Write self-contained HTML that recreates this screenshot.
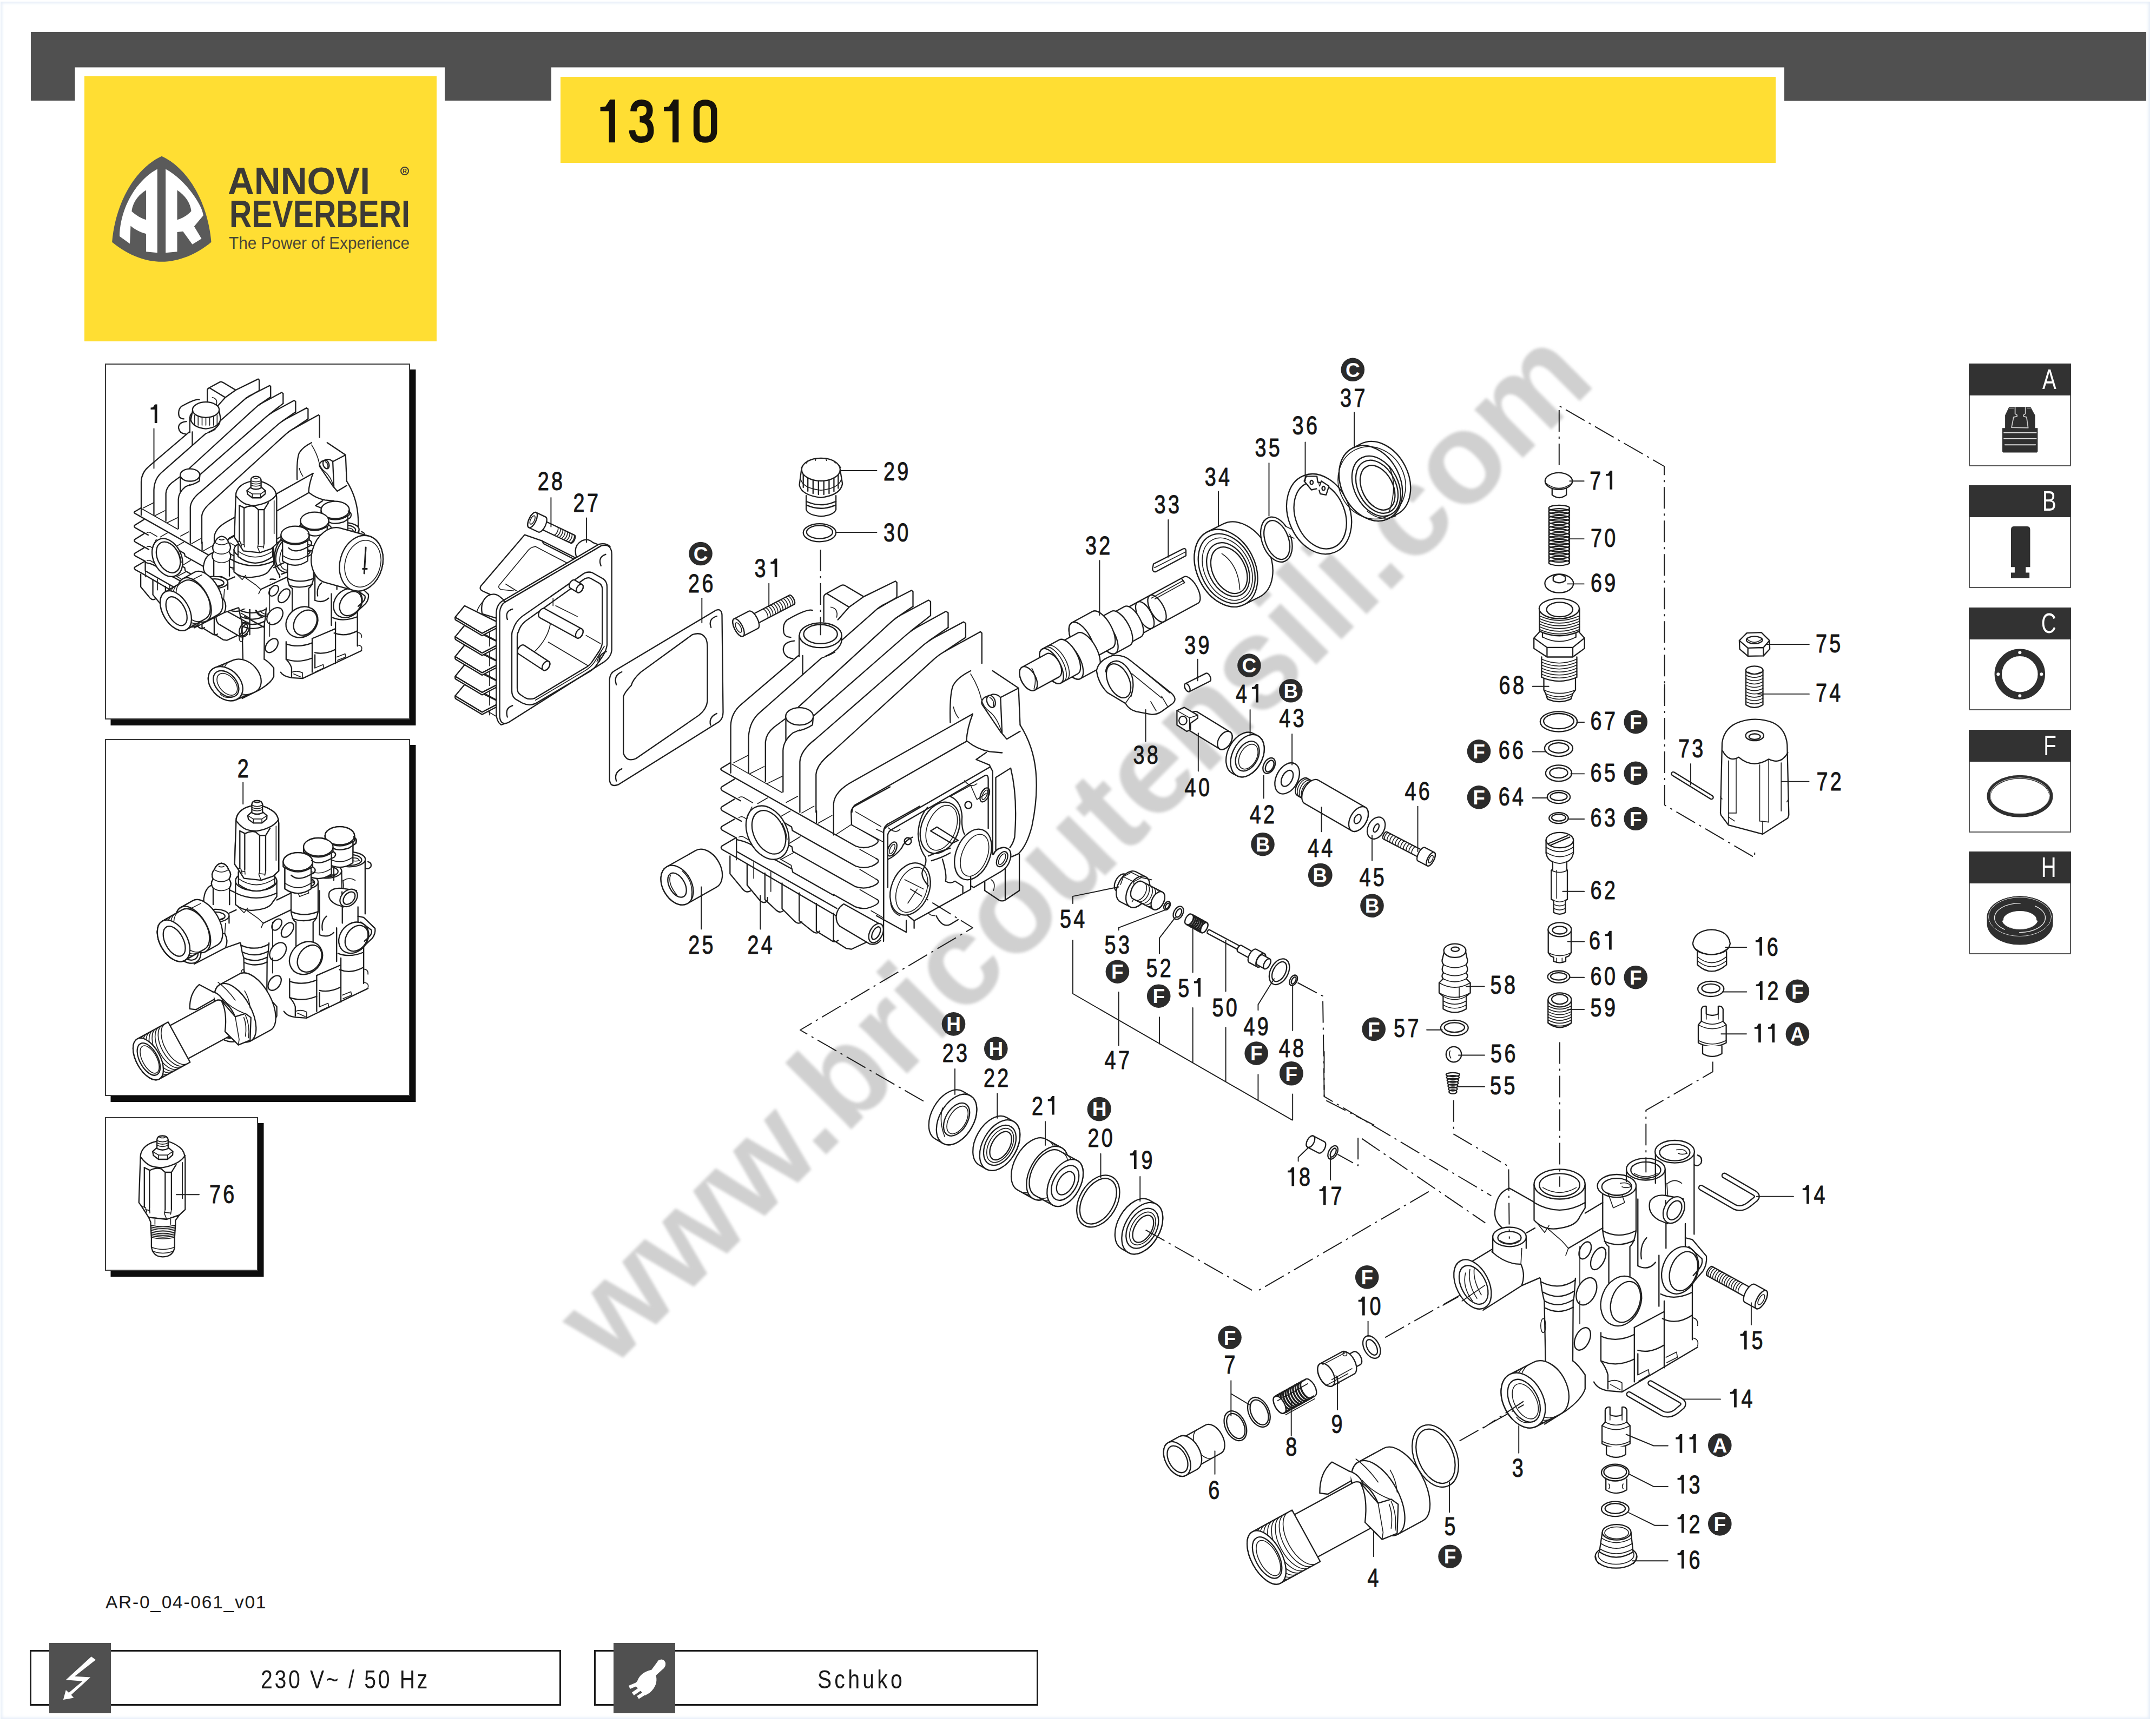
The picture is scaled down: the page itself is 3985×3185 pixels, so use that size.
<!DOCTYPE html>
<html><head><meta charset="utf-8"><title>1310</title>
<style>
html,body{margin:0;padding:0;background:#fff;}
body{width:3985px;height:3185px;position:relative;overflow:hidden;font-family:"Liberation Sans",sans-serif;}
.abs{position:absolute;}
#frame{left:1px;top:3px;width:3973px;height:3175px;box-shadow:inset 0 0 5px 3px #e6eef8;}
.yel{background:#ffde33;}
.tbox{border:2px solid #3a3a3a;background:#fff;box-shadow:10.5px 11px 0 0 #0d0d0d;box-sizing:border-box;}
.lg{border:2px solid #585858;box-sizing:border-box;background:#fff;left:3639px;width:189px;height:190px;}
.lg .h{position:absolute;left:-2px;top:-2px;width:189px;height:59px;background:#323232;}
.lg .h span{position:absolute;right:27px;top:3px;color:#fff;font-size:52px;line-height:52px;transform:scaleX(.74);transform-origin:100% 50%;}
.fbox{border:3.5px solid #1c1c1c;box-sizing:border-box;top:3050px;height:103px;}
.fic{background:#505050;top:3037px;height:130px;width:114px;}
.ftx{top:3074px;height:60px;font-size:49px;line-height:60px;color:#1a1a1a;white-space:nowrap;transform-origin:50% 50%;text-align:center;}
svg text{font-family:"Liberation Sans",sans-serif;}
#main .n{stroke:#161616;stroke-width:1;fill:#161616;font-size:49px;text-anchor:middle;letter-spacing:7px;}
#main .n1{stroke:#161616;stroke-width:1;fill:#161616;font-size:49px;text-anchor:middle;}
#main .k1{stroke:none;fill:#161616;}
#main .bg{stroke:none;fill:#2b2b2b;}
#main .bt{stroke:none;fill:#fff;font-size:37px;font-weight:bold;text-anchor:middle;}
#main .ld{stroke-width:1.9;}
#main .dd{stroke-width:2;stroke-dasharray:40 9 4 9;stroke-linecap:butt;}
#main .w{fill:#fff;}
#main .k{fill:#1e1e1e;}
#main .t{stroke-width:1.6;}
#main .sp{stroke-width:3.4;}

#main path,#main ellipse,#main line,#main circle,#main polyline,#main rect,#main polygon{vector-effect:non-scaling-stroke;}
</style></head><body>
<div id="frame" class="abs"></div>
<svg class="abs" style="left:0;top:0" width="3985" height="3185" viewBox="0 0 3985 3185">
<path d="M57,59H3967V186.5H3298V124.5H1019V186H822V124.5H138.5V186H57Z" fill="#505050"/>
</svg>
<div class="abs yel" style="left:155.5px;top:141px;width:651px;height:490px;"></div>
<div class="abs yel" style="left:1035.5px;top:141.5px;width:2246px;height:159px;"></div>
<!-- logo -->
<svg class="abs" style="left:0;top:0" width="900" height="700" viewBox="0 0 900 700">
<g transform="translate(190,270) scale(0.13349)">
<path d="M815,140 C1150,290 1450,740 1502,1330 C1300,1500 1050,1602 815,1602 C580,1602 330,1500 128,1330 C180,740 480,290 815,140Z" fill="#5a5a5a"/>
<path d="M755,318 C470,470 240,850 232,1250 L375,1352 L385,1105 C450,1160 530,1200 600,1215 L600,1462 L755,1477Z M600,610 C480,680 410,800 400,905 C460,960 530,1000 600,1020Z" fill="#fff" fill-rule="evenodd"/>
<path d="M870,318 C1150,470 1380,820 1392,960 L1265,1112 L1367,1282 L1240,1362 L1110,1182 L1030,1192 L1030,1462 L870,1477Z M1030,610 C1140,680 1215,790 1225,900 C1170,960 1100,1000 1030,1020Z" fill="#fff" fill-rule="evenodd"/>
</g>
<text id="l1" x="421" y="358.5" font-size="70" font-weight="bold" fill="#3c3a36" textLength="263" lengthAdjust="spacingAndGlyphs">ANNOVI</text>
<text id="l2" x="424" y="420" font-size="70" font-weight="bold" fill="#3c3a36" textLength="334" lengthAdjust="spacingAndGlyphs">REVERBERI</text>
<text id="l3" x="423" y="459.5" font-size="31.5" fill="#4a4636" textLength="334" lengthAdjust="spacingAndGlyphs">The Power of Experience</text>
<g fill="none" stroke="#3c3a36" stroke-width="2"><circle cx="748" cy="316" r="7"/></g>
<text x="744.3" y="320" font-size="10.5" font-weight="bold" fill="#3c3a36">R</text>
</svg>
<!-- thumbnails -->
<div class="abs tbox" style="left:193.5px;top:671.5px;width:564px;height:658px;"></div>
<div class="abs tbox" style="left:193.5px;top:1366px;width:564px;height:660px;"></div>
<div class="abs tbox" style="left:193.5px;top:2065px;width:283px;height:284px;"></div>
<!-- legend -->
<div class="abs lg" style="top:671.5px;"><div class="h"><span>A</span></div></div>
<div class="abs lg" style="top:897px;"><div class="h"><span>B</span></div></div>
<div class="abs lg" style="top:1122.5px;"><div class="h"><span>C</span></div></div>
<div class="abs lg" style="top:1348.5px;"><div class="h"><span>F</span></div></div>
<div class="abs lg" style="top:1574px;"><div class="h"><span>H</span></div></div>
<!-- footer -->
<div class="abs" id="ref" style="left:195px;top:2943px;font-size:33.5px;line-height:38px;color:#1a1a1a;letter-spacing:1.75px;white-space:nowrap;">AR-0_04-061_v01</div>
<div class="abs fbox" style="left:55px;width:982px;"></div>
<div class="abs fbox" style="left:1098px;width:821px;"></div>
<div class="abs fic" style="left:91px;"></div>
<div class="abs fic" style="left:1133.5px;"></div>
<div class="abs ftx" id="f1" style="left:438px;width:400px;letter-spacing:4.6px;transform:scaleX(.8);">230 V~ / 50 Hz</div>
<div class="abs ftx" id="f2" style="left:1392px;width:400px;letter-spacing:6.5px;transform:scaleX(.8);">Schuko</div>
<!-- watermark -->
<div class="abs" id="wm" style="left:0;top:0;width:3985px;height:3185px;pointer-events:none;">
<svg class="abs" style="left:0;top:0;filter:blur(2.6px)" width="3985" height="3185" viewBox="0 0 3985 3185">
<text id="wmt" transform="translate(1129,2532) rotate(-45)" x="0" y="0" font-size="239" font-weight="bold" fill="#d0d0d0" textLength="2580" lengthAdjust="spacing">www.bricoutensili.com</text>
</svg></div>
<!-- main drawing -->
<svg id="main" class="abs" style="left:0;top:0" width="3985" height="3185" viewBox="0 0 3985 3185" fill="none" stroke="#1e1e1e" stroke-width="2.3" stroke-linecap="round" stroke-linejoin="round">
<!-- g03b.svg -->
<g id="g03b">
<path d="M2777,2270.1 Q2759.1,2255.5 2764,2232.8 Q2767.9,2203.5 2790,2196.4 L2837.1,2223" class="w"/>
<path d="M2920,2288 L2962.3,2262 L2962.3,2187.3 L3014.3,2161.3 L3059.8,2138.5 L3059.8,2128.8 Q3095.5,2099.5 3134.5,2128.8 L3141,2145 L3131.3,2158 L3131.3,2281.5 L3154,2320.5 L3147.5,2349.8 L3128,2372.5 L3128,2431 L3139.4,2437.5 L3137.8,2489.5 L2998,2572.4 L2972,2570.8 Q2952.5,2567.5 2946,2554.5 L2929.8,2541.5 L2907,2515.5 L2907,2405 L2920,2372.5 Z" class="w" stroke="none"/>
<path d="M2695.8,2346.5 L2757.5,2309.1 L2759.1,2288 L2820.9,2288 L2821.5,2278.9 L2837.1,2270.1 L2837.1,2223 L2929.8,2223 L2929.8,2232.8 L2920,2249 L2920,2288 L2962.3,2262 L2962.3,2275 L2920,2304.3 L2920,2372.5 L2845.3,2362.8 L2812.8,2375.8 L2741.3,2421.3 Z" class="w" stroke="none"/>
<path d="M2695.1,2347.2 L2757.5,2309.5"/>
<path d="M2741.3,2421.9 L2812.8,2376.4 L2845.9,2362.1"/>
<path d="M2821.5,2278.9 L2837.1,2270.1"/>
<path d="M2929.8,2242.5 L2962.3,2223"/>
<path d="M2898.9,2307.5 L2962.3,2270.1"/>
<path d="M2757.5,2314 Q2783.5,2337.4 2811.1,2336.8 Q2819.9,2356.3 2812.8,2375.8"/>
<path d="M2811.1,2336.8 L2812.8,2307.5" class="t"/>
<path d="M2759.1,2288 L2759.1,2314.7 M2820.9,2288 L2820.9,2307.5"/>
<ellipse cx="2790" cy="2286.4" rx="30.9" ry="17.9" class="w"/>
<ellipse cx="2790" cy="2288" rx="21.5" ry="11.7"/>
<path d="M2772.1,2292.9 Q2790,2304.3 2807.9,2292.9" class="t"/>
<ellipse cx="2721.8" cy="2374.1" rx="29.9" ry="48.8" transform="rotate(-27 2721.8 2374.1)" class="w"/>
<ellipse cx="2723.7" cy="2375.1" rx="22.8" ry="38.4" transform="rotate(-27 2723.7 2375.1)"/>
<path d="M2708.8,2353 Q2702.3,2379 2721.8,2405 M2716.9,2346.5 Q2712,2372.5 2729.9,2400.1 M2725,2343.3 Q2721.8,2366 2738,2393.6" class="t"/>
<path d="M2702.3,2405 L2744.5,2375.8" class="t"/>
<path d="M2835.5,2188.9 L2835.5,2255.5 Q2855,2276.6 2884.3,2270.1 Q2913.5,2265.9 2920,2249 L2929.8,2232.8 L2929.8,2188.9" class="w"/>
<path d="M2835.5,2223 Q2882.6,2250.6 2929.8,2223"/>
<path d="M2842,2262 L2855,2278.3 L2863.1,2265.3" class="t"/>
<path d="M2861.5,2271.8 L2887.5,2294.5 L2898.9,2307.5 L2894,2320.5" class="t"/>
<ellipse cx="2882.6" cy="2188.9" rx="47.1" ry="27.6" class="w"/>
<ellipse cx="2882.6" cy="2190.5" rx="37.4" ry="21.1"/>
<path d="M2851.8,2195.4 Q2882.6,2213.3 2913.5,2195.4 M2855,2205.1 Q2882.6,2219.8 2910.3,2205.1" class="t"/>
<path d="M2846.9,2362.8 L2847.9,2369.3 Q2850.1,2388.8 2854.4,2405 L2856.6,2515.5 Q2851.8,2530.1 2835.5,2535"/>
<path d="M2911.9,2362.8 L2910.3,2385.5 Q2909.6,2398.5 2907.7,2405 L2907,2515.5"/>
<path d="M2847.9,2369.3 Q2881,2387.1 2911.9,2366 M2852.4,2388.8 Q2881,2405 2910.3,2386.2 M2855,2405 Q2881,2419.6 2908.3,2402.4 M2856.6,2418 Q2881,2431 2907.7,2416.4"/>
<ellipse cx="2852.4" cy="2450.5" rx="4.6" ry="13" class="t"/>
<path d="M2907,2515.5 Q2916.8,2522 2929.8,2541.5 L2929.8,2567.5 Q2923.3,2587 2894,2608.1 L2855,2632.5" class="w"/>
<path d="M2835.5,2535 L2803,2544.8"/>
<g transform="translate(2815.4,2588.6) rotate(-27.2)"><path class="w" d="M0,-54 L49,-54 A36.7,54 0 0 1 49,54 L0,54 A36.7,54 0 0 1 0,-54 Z"/><path class="t" d="M11.4,-54 A36.7,54 0 0 0 11.4,54"/><path class="t" d="M21.1,-54 A36.7,54 0 0 0 21.1,54"/><path class="t" d="M30.9,-54 A36.7,54 0 0 0 30.9,54"/><path class="t" d="M40.6,-54 A36.7,54 0 0 0 40.6,54"/><ellipse class="w" cx="0" cy="0" rx="36.7" ry="54"/></g>
<ellipse cx="2816.7" cy="2589.3" rx="26" ry="42.3" transform="rotate(-27.4 2816.7 2589.3)"/>
<ellipse cx="2819.3" cy="2590.3" rx="20.2" ry="35.1" transform="rotate(-27.4 2819.3 2590.3)" class="t"/>
<path d="M2803,2619.5 Q2812.8,2632.5 2829,2629.3" class="t"/>
<ellipse cx="2929.8" cy="2311.4" rx="9.8" ry="16.9" transform="rotate(25 2929.8 2311.4)"/>
<ellipse cx="2954.1" cy="2326.4" rx="11.7" ry="22.1" transform="rotate(25 2954.1 2326.4)"/>
<ellipse cx="2932.4" cy="2387.1" rx="16.9" ry="26.7" transform="rotate(25 2932.4 2387.1)"/>
<ellipse cx="2924.9" cy="2474.9" rx="13" ry="22.1" transform="rotate(25 2924.9 2474.9)"/>
<path d="M2920,2304.3 L2920,2372.5 M2920,2405 L2920,2447.3" class="t"/>
<path d="M2962.3,2192.1 L2962.3,2275 Q2965.5,2301 2973.6,2304.3 L2973.6,2372.5 M3024,2192.1 L3024,2275 Q3020.8,2297.8 3012.6,2304.3 L3012.6,2372.5"/>
<path d="M2962.3,2275 Q2991.5,2291.3 3024,2275 M2965.5,2294.5 Q2991.5,2307.5 3020.8,2292.9"/>
<ellipse cx="2988.3" cy="2192.1" rx="35.8" ry="21.1" class="w"/>
<ellipse cx="2988.3" cy="2193.8" rx="27.6" ry="15.6"/>
<path d="M2972,2205.1 Q2985,2213.3 2998,2208.4 L3002.9,2223 L2981.8,2232.8 Z" class="t"/>
<path d="M2994.8,2187.3 Q3011,2184 3014.3,2193.8 Q3004.5,2197 2998,2193.8" class="t"/>
<ellipse cx="2996.4" cy="2405" rx="36.4" ry="47.1" transform="rotate(20 2996.4 2405)" class="w"/>
<ellipse cx="3004.5" cy="2406.6" rx="26" ry="39" transform="rotate(20 3004.5 2406.6)"/>
<path d="M2959,2463.5 L2959,2515.5 Q2968.8,2528.5 2972,2541.5 L2972,2567.5 M3020.8,2453.8 L3020.8,2554.5"/>
<path d="M2959,2470 Q2988.3,2483 3020.8,2466.8 M2959,2515.5 Q2988.3,2528.5 3020.8,2512.3"/>
<path d="M3006.1,2161.3 L3006.1,2184 M3077.6,2161.3 L3079.3,2262 M3027.3,2216.5 L3027.3,2340 M3066.3,2320.5 L3066.3,2414.8"/>
<ellipse cx="3041.9" cy="2161.3" rx="35.8" ry="20.2" class="w"/>
<ellipse cx="3041.9" cy="2162.9" rx="27.6" ry="15"/>
<path d="M3020.8,2169.4 Q3041.9,2180.8 3063,2169.4" class="t"/>
<path d="M3033.8,2327 Q3030.5,2301 3043.5,2288 M3027.3,2340 Q3046.8,2349.8 3059.8,2333.5"/>
<path d="M3020.8,2453.8 L3027.3,2450.5 L3076,2424.5 M3076,2405 L3076,2528.5 M3027.3,2496 Q3050,2502.5 3076,2486.3 M3027.3,2541.5 L3027.3,2502.5"/>
<path d="M3059.8,2128.8 L3059.8,2187.3 M3131.3,2128.8 L3131.3,2281.5"/>
<ellipse cx="3095.5" cy="2128.8" rx="36.4" ry="20.8" class="w"/>
<ellipse cx="3095.5" cy="2130.4" rx="28" ry="15.3"/>
<path d="M3098.8,2125.5 Q3115,2122.3 3118.3,2132 Q3108.5,2135.3 3102,2132" class="t"/>
<path d="M3137.8,2135.3 Q3147.5,2138.5 3144.3,2149.9 Q3137.8,2158 3131.9,2153.1"/>
<path d="M3050,2219.8 Q3059.8,2206.8 3079.3,2210 L3111.8,2216.5 M3050,2219.8 Q3043.5,2242.5 3066.3,2255.5 L3082.5,2262" class="w"/>
<ellipse cx="3093.9" cy="2236.7" rx="17.9" ry="26" transform="rotate(28 3093.9 2236.7)" class="w"/>
<ellipse cx="3094.9" cy="2237.3" rx="11.7" ry="18.9" transform="rotate(28 3094.9 2237.3)"/>
<path d="M3082.5,2187.3 Q3095.5,2177.5 3108.5,2187.3 M3080.9,2187.3 L3082.5,2210" class="t"/>
<ellipse cx="3105.3" cy="2348.1" rx="32.5" ry="44.9" transform="rotate(20 3105.3 2348.1)" class="w"/>
<ellipse cx="3111.8" cy="2349.8" rx="24.4" ry="37.4" transform="rotate(20 3111.8 2349.8)"/>
<path d="M3079.3,2262 L3079.3,2307.5 M3115,2262 L3115,2304.3"/>
<path d="M3069.5,2392 Q3095.5,2405 3128,2388.8 M3128,2372.5 L3128,2476.5 M3072.8,2437.5 Q3098.8,2450.5 3128,2431"/>
<path d="M3128,2435.9 Q3139.4,2437.5 3137.8,2450.5 M3128,2473.3 Q3141,2474.9 3137.8,2487.9" class="t"/>
<path d="M3115,2288 L3128,2291.3 L3154,2322.1 Q3155.6,2336.8 3147.5,2349.8 L3128,2372.5 M3121.5,2304.3 L3145.9,2327 Q3147.5,2336.8 3141,2344.9 L3129.6,2357.9"/>
<path d="M2946,2554.5 Q2952.5,2567.5 2972,2570.8 L2998,2573 L3137.8,2490.2"/>
<path d="M2972,2554.5 Q2985,2548 2998,2556.1 L2998,2573 M2976.9,2559.4 L2994.8,2569.1" class="t"/>
<path d="M3027.3,2541.5 L3046.8,2531.8 L3048.4,2541.5 L3028.9,2552.9 M3079.3,2509 L3098.8,2499.3 L3100.4,2509 L3080.9,2518.8" class="t"/>
</g>

<!-- g03x.svg -->
<g id="g03x">
<path d="M3144.3,2195.4 L3206,2231.1 Q3219,2236.7 3232,2226.9 L3245,2216.5 Q3250.9,2210 3241.8,2204.8 L3187.2,2173" stroke-width="11"/>
<path d="M3144.3,2195.4 L3206,2231.1 Q3219,2236.7 3232,2226.9 L3245,2216.5 Q3250.9,2210 3241.8,2204.8 L3187.2,2173" stroke="#fff" stroke-width="6.4"/>
<path d="M3011,2577.3 L3072.8,2613 Q3085.8,2618.5 3098.8,2608.8 L3109.2,2600 Q3114.4,2593.5 3105.9,2588.6 L3050.7,2556.8" stroke-width="11"/>
<path d="M3011,2577.3 L3072.8,2613 Q3085.8,2618.5 3098.8,2608.8 L3109.2,2600 Q3114.4,2593.5 3105.9,2588.6 L3050.7,2556.8" stroke="#fff" stroke-width="6.4"/>
<g transform="translate(3255.4,2402.4) rotate(208.9)"><path class="w" d="M24.4,-9.8 L108.9,-9.8 A4.1,9.8 0 0 1 108.9,9.8 L24.4,9.8 Z"/><path class="t" d="M42.3,-9.8 A4.1,9.8 0 0 1 42.3,9.8"/><path class="t" d="M47.1,-9.8 A4.1,9.8 0 0 1 47.1,9.8"/><path class="t" d="M52,-9.8 A4.1,9.8 0 0 1 52,9.8"/><path class="t" d="M56.9,-9.8 A4.1,9.8 0 0 1 56.9,9.8"/><path class="t" d="M61.8,-9.8 A4.1,9.8 0 0 1 61.8,9.8"/><path class="t" d="M66.6,-9.8 A4.1,9.8 0 0 1 66.6,9.8"/><path class="t" d="M71.5,-9.8 A4.1,9.8 0 0 1 71.5,9.8"/><path class="t" d="M76.4,-9.8 A4.1,9.8 0 0 1 76.4,9.8"/><path class="t" d="M81.3,-9.8 A4.1,9.8 0 0 1 81.3,9.8"/><path class="t" d="M86.1,-9.8 A4.1,9.8 0 0 1 86.1,9.8"/><path class="t" d="M91,-9.8 A4.1,9.8 0 0 1 91,9.8"/><path class="t" d="M95.9,-9.8 A4.1,9.8 0 0 1 95.9,9.8"/><path class="t" d="M100.8,-9.8 A4.1,9.8 0 0 1 100.8,9.8"/><path class="t" d="M105.6,-9.8 A4.1,9.8 0 0 1 105.6,9.8"/><path class="w" d="M0,-18.9 L24.4,-18.9 A7.9,18.9 0 0 1 24.4,18.9 L0,18.9 A7.9,18.9 0 0 1 0,-18.9 Z"/><ellipse class="w" cx="0" cy="0" rx="7.9" ry="18.9"/><ellipse class="t" cx="0" cy="0" rx="4.4" ry="10.4"/></g>
<path class="k1" d="M3228.6,2459.8V2494.4H3223.9V2469.2H3216.6V2465.8L3220.8,2465.4L3224.4,2459.8Z"/><text class="n1" transform="translate(3247.9,2494.4) scale(.77,1)">5</text>
<path d="M3236.9,2408.3L3236.9,2448.9" class="ld"/>
<path class="k1" d="M3209.8,2567V2601.6H3205.1V2576.4H3197.8V2573L3202,2572.6L3205.6,2567Z"/><text class="n1" transform="translate(3229.1,2601.6) scale(.77,1)">4</text>
<path d="M3110.1,2586.4L3180,2586.4" class="ld"/>
<path d="M3246.7,2211.6L3314.9,2211.6" class="ld"/>
<path d="M2816,2590.3 L2741.3,2640" class="dd"/>
<path d="M2695.8,2396.9 L2666.5,2413.1" class="dd"/>
</g>

<!-- g04.svg -->
<g id="g04">
<g transform="translate(2196.1,2685.9) rotate(-28.9)"><path class="w" d="M0,-29.7 L53,-29.7 A17.8,29.7 0 0 1 53,29.7 L0,29.7 A17.8,29.7 0 0 1 0,-29.7 Z"/><path class="t" d="M35.3,-29.7 A17.8,29.7 0 0 0 35.3,29.7"/><ellipse class="w" cx="0" cy="0" rx="17.8" ry="29.7"/></g>
<g transform="translate(2175.7,2697) rotate(-28.6)"><path class="w" d="M0,-34.5 L23.3,-34.5 A21.4,34.5 0 0 1 23.3,34.5 L0,34.5 A21.4,34.5 0 0 1 0,-34.5 Z"/><ellipse class="w" cx="0" cy="0" rx="21.4" ry="34.5"/></g>
<ellipse cx="2176.5" cy="2697.4" rx="16.3" ry="26.7" transform="rotate(-28 2176.5 2697.4)"/>
<text class="n1" transform="translate(2243.7,2771.3) scale(.77,1)">6</text>
<path d="M2245.5,2682.2L2245.5,2724.9" class="ld"/>
<ellipse cx="2283.4" cy="2635.7" rx="18.6" ry="29" transform="rotate(-25 2283.4 2635.7)" class="w"/>
<ellipse cx="2284.2" cy="2636.1" rx="14.9" ry="24.5" transform="rotate(-25 2284.2 2636.1)"/>
<ellipse cx="2326.9" cy="2610.5" rx="18.6" ry="29" transform="rotate(-25 2326.9 2610.5)" class="w"/>
<ellipse cx="2327.6" cy="2610.8" rx="14.9" ry="24.5" transform="rotate(-25 2327.6 2610.8)"/>
<text class="n1" transform="translate(2273,2539.2) scale(.77,1)">7</text>
<path d="M2275.3,2552.2 L2275.3,2617.2 M2275.3,2576.3 L2309.4,2596.7" class="ld"/>
<circle class="bg" cx="2273" cy="2472.3" r="21.8"/><text class="bt" x="2273" y="2485.5">F</text>
<g transform="translate(2365.2,2596.7) rotate(-29.2)"><path class="w" d="M0,-17.8 L64.7,-17.8 A8.9,17.8 0 0 1 64.7,17.8 L0,17.8 A8.9,17.8 0 0 1 0,-17.8 Z"/><path class="sp" d="M5.2,-17.8 A8.9,17.8 0 0 0 5.2,17.8"/><path class="sp" d="M10.4,-17.8 A8.9,17.8 0 0 0 10.4,17.8"/><path class="sp" d="M15.6,-17.8 A8.9,17.8 0 0 0 15.6,17.8"/><path class="sp" d="M20.8,-17.8 A8.9,17.8 0 0 0 20.8,17.8"/><path class="sp" d="M26,-17.8 A8.9,17.8 0 0 0 26,17.8"/><path class="sp" d="M31.2,-17.8 A8.9,17.8 0 0 0 31.2,17.8"/><path class="sp" d="M36.4,-17.8 A8.9,17.8 0 0 0 36.4,17.8"/><path class="sp" d="M41.6,-17.8 A8.9,17.8 0 0 0 41.6,17.8"/><path class="sp" d="M46.8,-17.8 A8.9,17.8 0 0 0 46.8,17.8"/><path class="sp" d="M52,-17.8 A8.9,17.8 0 0 0 52,17.8"/><path class="sp" d="M57.2,-17.8 A8.9,17.8 0 0 0 57.2,17.8"/><ellipse class="w" cx="0" cy="0" rx="8.9" ry="17.8"/></g>
<path d="M2357.7,2581.9 L2413.4,2550.3 M2361.4,2589.3 L2417.2,2557.7 M2372.6,2611.6 L2428.3,2580 M2376.3,2615.3 L2430.2,2585.6" class="t"/>
<text class="n1" transform="translate(2386.7,2691.4) scale(.77,1)">8</text>
<path d="M2386.7,2593L2386.7,2654.3" class="ld"/>
<g transform="translate(2491.4,2519.5) rotate(-28.1)"><path class="w" d="M0,-13.4 L18.9,-13.4 A7.4,13.4 0 0 1 18.9,13.4 L0,13.4 A7.4,13.4 0 0 1 0,-13.4 Z"/><ellipse class="w" cx="0" cy="0" rx="7.4" ry="13.4"/></g>
<g transform="translate(2451.3,2541.4) rotate(-28.6)"><path class="w" d="M0,-23.4 L45.7,-23.4 A12.9,23.4 0 0 1 45.7,23.4 L0,23.4 A12.9,23.4 0 0 1 0,-23.4 Z"/><ellipse class="w" cx="0" cy="0" rx="12.9" ry="23.4"/></g>
<path d="M2445,2522.4 L2485.9,2500.9 M2450.6,2561.4 L2491.4,2539.2 M2461.7,2550.3 L2498.9,2529.9 M2469.2,2542.9 L2474.7,2557.7" class="t"/>
<ellipse cx="2485.9" cy="2502.8" rx="3.7" ry="3.7" class="t"/>
<text class="n1" transform="translate(2471,2648.7) scale(.77,1)">9</text>
<path d="M2472.1,2546.6L2472.1,2606" class="ld"/>
<ellipse cx="2535.3" cy="2490.1" rx="14.1" ry="22.3" transform="rotate(-28 2535.3 2490.1)" class="w"/>
<ellipse cx="2535.6" cy="2490.5" rx="8.5" ry="15.6" transform="rotate(-28 2535.6 2490.5)"/>
<path class="k1" d="M2522.7,2396.8V2431.4H2518V2406.2H2510.7V2402.8L2514.9,2402.4L2518.5,2396.8Z"/><text class="n1" transform="translate(2542,2431.4) scale(.77,1)">0</text>
<path d="M2528.6,2442.6L2528.6,2470.4" class="ld"/>
<circle class="bg" cx="2526.7" cy="2360.9" r="21.8"/><text class="bt" x="2526.7" y="2374.1">F</text>
<ellipse cx="2653" cy="2691.4" rx="39" ry="60.2" transform="rotate(-23 2653 2691.4)" class="w"/>
<ellipse cx="2653.4" cy="2691.8" rx="32.3" ry="52.7" transform="rotate(-23 2653.4 2691.8)"/>
<text class="n1" transform="translate(2680.1,2838.2) scale(.77,1)">5</text>
<path d="M2679,2739.7L2679,2795.4" class="ld"/>
<circle class="bg" cx="2680.1" cy="2877.2" r="21.8"/><text class="bt" x="2680.1" y="2890.4">F</text>
<text class="n1" transform="translate(2537.9,2932.9) scale(.77,1)">4</text>
<path d="M2539,2823.3L2539,2877.2" class="ld"/>
<text class="n1" transform="translate(2805.3,2730.4) scale(.77,1)">3</text>
<path d="M2807.2,2635.7L2807.2,2685.9" class="ld"/>
<path d="M2560.2,2472.3 L2699.5,2393.5" class="dd"/>
<path d="M2697.6,2663.6 L2816.5,2596.7" class="dd"/>
</g>

<!-- g04p.svg -->
<g id="g04p">
<path d="M2439.4,2760.2 Q2438.7,2723 2461.7,2702.6 L2493.3,2719.3 L2506.3,2732.3 L2454.3,2762 Z" class="w"/>
<g transform="translate(2547.2,2769.4) rotate(-28.5)"><path class="w" d="M0,-76.1 L52.9,-76.1 A38.1,76.1 0 0 1 52.9,76.1 L0,76.1 A38.1,76.1 0 0 1 0,-76.1 Z"/><ellipse class="w" cx="0" cy="0" rx="38.1" ry="76.1"/></g>
<path d="M2506.3,2697 Q2528.6,2713.7 2547.2,2739.7 M2569.4,2717.4 Q2580.6,2736 2582.4,2758.3 M2517.4,2736 Q2536,2758.3 2569.4,2771.3" class="t"/>
<path d="M2493.3,2719.3 Q2513.7,2724.9 2521.2,2747.2 Q2526.7,2776.9 2519.3,2799.2" class="w"/>
<g transform="translate(2413.4,2839.3) rotate(-28.5)"><path class="w" d="M0,-44.6 L124.7,-44.6 A22.3,44.6 0 0 1 124.7,44.6 L0,44.6 A22.3,44.6 0 0 1 0,-44.6 Z"/></g>
<g transform="translate(2341,2879) rotate(-28.7)"><path class="w" d="M0,-54.2 L83.4,-54.2 L83.4,54.2 L0,54.2 A28.2,54.2 0 0 1 0,-54.2 Z"/><path class="t" d="M10.4,-54.2 A28.2,54.2 0 0 0 10.4,54.2"/><path class="t" d="M18.6,-54.2 A28.2,54.2 0 0 0 18.6,54.2"/><path class="t" d="M26.7,-54.2 A28.2,54.2 0 0 0 26.7,54.2"/><path class="t" d="M34.9,-54.2 A28.2,54.2 0 0 0 34.9,54.2"/><path class="t" d="M43.1,-54.2 A28.2,54.2 0 0 0 43.1,54.2"/><path class="t" d="M51.3,-54.2 A28.2,54.2 0 0 0 51.3,54.2"/><path class="t" d="M59.4,-54.2 A28.2,54.2 0 0 0 59.4,54.2"/><path class="t" d="M67.6,-54.2 A28.2,54.2 0 0 0 67.6,54.2"/><path class="t" d="M75.8,-54.2 A28.2,54.2 0 0 0 75.8,54.2"/><ellipse class="w" cx="0" cy="0" rx="28.2" ry="54.2"/></g>
<ellipse cx="2342.1" cy="2879.4" rx="21.5" ry="41.6" transform="rotate(-28 2342.1 2879.4)"/>
<ellipse cx="2344.4" cy="2880.1" rx="17.1" ry="35.7" transform="rotate(-28 2344.4 2880.1)" class="t"/>
<path d="M2513.7,2739.7 Q2528.6,2765.7 2523,2814 L2554.6,2845.6 L2582.4,2834.5 L2584.3,2780.6 L2571.3,2771.3 L2547.2,2778.7 Z" class="w"/>
<path d="M2554.6,2845.6 L2556.4,2832.6 L2547.2,2778.7 M2567.6,2780.6 Q2575,2799.2 2571.3,2825.2 M2571.3,2775 Q2582.4,2799.2 2578.7,2828.9" class="t"/>
</g>

<!-- g11.svg -->
<g id="g11">
<path d="M2966.9,2606.4 L2966.9,2628.7 L2961.1,2635.3 L2961.1,2668.7 Q2987,2682.1 3012.8,2668.7 L3012.8,2635.3 L3007,2628.7 L3007,2606.4 Q3004.8,2599.7 2998.1,2601.1 L2998.1,2615.3 Q2987,2620.7 2975.8,2615.3 L2975.8,2601.1 Q2969.1,2599.7 2966.9,2606.4 Z" class="w"/>
<path d="M2961.1,2635.3 Q2987,2650 3012.8,2635.3 M2966.9,2628.7 Q2987,2639.8 3007,2628.7 M2975.8,2615.3 L2975.8,2625.1 M2998.1,2615.3 L2998.1,2625.1" class="t"/>
<path d="M2969.1,2674.1 L2969.1,2688.8 Q2987,2699 3004.8,2688.8 L3004.8,2674.1" class="w"/>
<path d="M2961.1,2664.3 Q2987,2677.6 3012.8,2664.3" class="t"/>
<path class="k1" d="M3109.3,2651.1V2685.7H3104.6V2660.5H3097.3V2657.1L3101.5,2656.7L3105.1,2651.1Z"/><path class="k1" d="M3134.6,2651.1V2685.7H3129.9V2660.5H3122.6V2657.1L3126.8,2656.7L3130.4,2651.1Z"/>
<path d="M3005.7,2651.5 L3056.4,2672.5 L3082.9,2672.5" class="ld"/>
<circle class="bg" cx="3178.8" cy="2671.4" r="21.8"/><text class="bt" x="3178.8" y="2684.6">A</text>
<path d="M2968.2,2734.2 L2968.2,2754.1 Q2987,2766.2 3006.8,2754.1 L3006.8,2734.2" class="w"/>
<path d="M2973.7,2743.1 Q2977,2747.5 2973.7,2751.9 M3000.2,2743.1 Q2996.9,2747.5 3000.2,2751.9" class="t"/>
<ellipse cx="2985.4" cy="2722.1" rx="25.4" ry="15.4" class="w"/>
<ellipse cx="2985.4" cy="2721" rx="21" ry="11.9"/>
<path d="M2963.8,2729.8 Q2985.4,2745.3 3007.9,2729.8" class="t"/>
<path class="k1" d="M3112.6,2726.1V2760.7H3107.9V2735.5H3100.6V2732.1L3104.8,2731.7L3108.4,2726.1Z"/><text class="n1" transform="translate(3131.9,2760.7) scale(.77,1)">3</text>
<path d="M3010.1,2724.3 L3056.4,2747.9 L3082.9,2747.9" class="ld"/>
<ellipse cx="2985.4" cy="2789.4" rx="25.4" ry="13.7" class="w"/>
<ellipse cx="2985.4" cy="2788.5" rx="18.7" ry="9.3"/>
<path class="k1" d="M3112.6,2798.9V2833.5H3107.9V2808.3H3100.6V2804.9L3104.8,2804.5L3108.4,2798.9Z"/><text class="n1" transform="translate(3131.9,2833.5) scale(.77,1)">2</text>
<path d="M3010.1,2796 L3058.6,2819.8 L3082.9,2819.8" class="ld"/>
<circle class="bg" cx="3178.8" cy="2816.9" r="21.8"/><text class="bt" x="3178.8" y="2830.1">F</text>
<ellipse cx="2987" cy="2877.6" rx="38.6" ry="21" class="w"/>
<path d="M2949.5,2877.6 Q2950.6,2886.4 2955,2890.8 M3024.5,2877.6 Q3023.4,2886.4 3018.9,2890.8" class="t"/>
<ellipse cx="2987" cy="2874.3" rx="33.1" ry="17.2" class="t"/>
<path d="M2961.6,2832.4 L2956.1,2868.8 Q2987,2888.6 3018.5,2868.8 L3014.5,2832.4" class="w"/>
<path d="M2960.5,2843.4 Q2987,2859.9 3015.6,2843.4 M2959,2853.3 Q2987,2871 3017.2,2853.3 M2957.2,2863.3 Q2987,2880.9 3018.5,2863.3" class="t"/>
<ellipse cx="2988.1" cy="2832.4" rx="26.5" ry="14.3" class="w"/>
<ellipse cx="2988.1" cy="2833.5" rx="22.1" ry="11" class="t"/>
<path class="k1" d="M3112.6,2865V2899.6H3107.9V2874.4H3100.6V2871L3104.8,2870.6L3108.4,2865Z"/><text class="n1" transform="translate(3131.9,2899.6) scale(.77,1)">6</text>
<path d="M3016.7,2885.3L3082.9,2885.3" class="ld"/>
</g>

<!-- g17.svg -->
<g id="g17">
<g transform="translate(2422.4,2110.3) rotate(27.8)"><path class="w" d="M0,-11.7 L22.7,-11.7 A6.4,11.7 0 0 1 22.7,11.7 L0,11.7 A6.4,11.7 0 0 1 0,-11.7 Z"/><ellipse class="w" cx="0" cy="0" rx="6.4" ry="11.7"/></g>
<ellipse cx="2463.6" cy="2130.3" rx="7.8" ry="13.4" transform="rotate(28 2463.6 2130.3)" class="w"/>
<ellipse cx="2464.2" cy="2130.6" rx="4.2" ry="8.9" transform="rotate(28 2464.2 2130.6)"/>
<path class="k1" d="M2392.1,2157.8V2192.4H2387.4V2167.2H2380.1V2163.8L2384.3,2163.4L2387.9,2157.8Z"/><text class="n1" transform="translate(2411.4,2192.4) scale(.77,1)">8</text>
<path d="M2419.7,2120 L2399.6,2139.5 L2399.6,2146.5" class="ld"/>
<path class="k1" d="M2450.6,2192.6V2227.2H2445.9V2202H2438.6V2198.6L2442.8,2198.2L2446.4,2192.6Z"/><text class="n1" transform="translate(2469.9,2227.2) scale(.77,1)">7</text>
<path d="M2459.2,2138.1L2459.2,2181.2" class="ld"/>
<circle class="bg" cx="2386.8" cy="1983.7" r="21.8"/><text class="bt" x="2386.8" y="1996.9">F</text>
<path d="M2447.5,1943.3 L2447.5,2026.8 L2756.4,2210.5" class="dd"/>
<path d="M2510.1,2103.3 L2510.1,2154.8 L2472.5,2133.9" class="dd"/>
<path d="M2517.1,2104.7 L2745.3,2260.6" class="dd"/>
<path d="M2640.9,2202.7 L2320.6,2388.6" class="dd"/>
<path d="M2686.8,2033.7 L2686.8,2096.4 L2788.4,2156.2 L2789.8,2289.8" class="dd"/>
<path d="M2883,1926.6 L2883,2193.8" class="dd"/>
<ellipse cx="2685.4" cy="1986.4" rx="12.5" ry="3.6"/>
<ellipse cx="2685.4" cy="1991.7" rx="11.6" ry="3.6"/>
<ellipse cx="2685.4" cy="1997" rx="10.7" ry="3.6"/>
<ellipse cx="2685.4" cy="2002.3" rx="9.9" ry="3.6"/>
<ellipse cx="2685.4" cy="2007.6" rx="9" ry="3.6"/>
<ellipse cx="2685.4" cy="2012.9" rx="8.1" ry="3.6"/>
<ellipse cx="2685.4" cy="2018.2" rx="7.2" ry="3.6"/>
<text class="n1" transform="translate(2764.6,2022.6) scale(.77,1)">5</text><text class="n1" transform="translate(2789.9,2022.6) scale(.77,1)">5</text>
<path d="M2695.2,2008.7L2743.9,2008.7" class="ld"/>
</g>

<!-- g19.svg -->
<g id="g19">
<g transform="translate(1768.1,2069.4) rotate(-150)"><path class="w" d="M0,-50.8 L16.3,-50.8 A31.5,50.8 0 0 1 16.3,50.8 L0,50.8 A31.5,50.8 0 0 1 0,-50.8 Z"/><ellipse class="w" cx="0" cy="0" rx="31.5" ry="50.8"/></g>
<ellipse cx="1768.1" cy="2069.4" rx="20.1" ry="33.2" transform="rotate(30.4 1768.1 2069.4)"/>
<ellipse cx="1769.7" cy="2070.3" rx="15.7" ry="28.2" transform="rotate(30.4 1769.7 2070.3)" class="t"/>
<path d="M1742.1,2048 Q1735.2,2073.1 1746.2,2101.3" class="t"/>
<g transform="translate(1848,2117) rotate(-150.1)"><path class="w" d="M0,-50.8 L14.5,-50.8 A31.5,50.8 0 0 1 14.5,50.8 L0,50.8 A31.5,50.8 0 0 1 0,-50.8 Z"/><ellipse class="w" cx="0" cy="0" rx="31.5" ry="50.8"/></g>
<ellipse cx="1848" cy="2117" rx="25.7" ry="40.1" transform="rotate(30.4 1848 2117)"/>
<ellipse cx="1848.7" cy="2117.3" rx="20.7" ry="34.5" transform="rotate(30.4 1848.7 2117.3)" class="t"/>
<ellipse cx="1849.6" cy="2117.9" rx="16.3" ry="28.8" transform="rotate(30.4 1849.6 2117.9)"/>
<g transform="translate(1935.8,2168.7) rotate(-150.9)"><path class="w" d="M0,-53.9 L32.3,-53.9 A32.3,53.9 0 0 1 32.3,53.9 L0,53.9 A32.3,53.9 0 0 1 0,-53.9 Z"/><path class="t" d="M7.8,-53.9 A32.3,53.9 0 0 0 7.8,53.9"/><path class="t" d="M14.1,-53.9 A32.3,53.9 0 0 0 14.1,53.9"/><path class="t" d="M21.9,-53.9 A32.3,53.9 0 0 0 21.9,53.9"/><path class="t" d="M28.2,-53.9 A32.3,53.9 0 0 0 28.2,53.9"/><ellipse class="w" cx="0" cy="0" rx="32.3" ry="53.9"/></g>
<g transform="translate(1968.7,2186.6) rotate(-151.5)"><path class="w" d="M0,-47 L37.4,-47 A28.2,47 0 0 1 37.4,47 L0,47 A28.2,47 0 0 1 0,-47 Z"/><path class="t" d="M21.9,-47 A28.2,47 0 0 0 21.9,47"/><path class="t" d="M31.3,-47 A28.2,47 0 0 0 31.3,47"/><ellipse class="w" cx="0" cy="0" rx="28.2" ry="47"/></g>
<ellipse cx="1968.7" cy="2186.6" rx="21.3" ry="35.1" transform="rotate(30.4 1968.7 2186.6)"/>
<ellipse cx="1969.6" cy="2187.2" rx="13.8" ry="23.5" transform="rotate(30.4 1969.6 2187.2)"/>
<ellipse cx="2029.8" cy="2220.4" rx="34.5" ry="51.7" transform="rotate(30.4 2029.8 2220.4)" class="w"/>
<ellipse cx="2029.8" cy="2220.4" rx="28.8" ry="45.8" transform="rotate(30.4 2029.8 2220.4)"/>
<g transform="translate(2111.3,2270.6) rotate(-150.1)"><path class="w" d="M0,-51.7 L14.5,-51.7 A32.1,51.7 0 0 1 14.5,51.7 L0,51.7 A32.1,51.7 0 0 1 0,-51.7 Z"/><ellipse class="w" cx="0" cy="0" rx="32.1" ry="51.7"/></g>
<ellipse cx="2111.3" cy="2270.6" rx="25.7" ry="40.1" transform="rotate(30.4 2111.3 2270.6)"/>
<ellipse cx="2111.9" cy="2270.9" rx="20.1" ry="33.2" transform="rotate(30.4 2111.9 2270.9)" class="t"/>
<ellipse cx="2112.9" cy="2271.5" rx="15.7" ry="27.6" transform="rotate(30.4 2112.9 2271.5)"/>
<text class="n1" transform="translate(1752.3,1963.4) scale(.77,1)">2</text><text class="n1" transform="translate(1777.6,1963.4) scale(.77,1)">3</text>
<path d="M1765,1976L1765,2023" class="ld"/>
<circle class="bg" cx="1762.5" cy="1892.9" r="21.8"/><text class="bt" x="1762.5" y="1906.1">H</text>
<text class="n1" transform="translate(1828.5,2008.9) scale(.77,1)">2</text><text class="n1" transform="translate(1853.8,2008.9) scale(.77,1)">2</text>
<path d="M1843.3,2021.4L1843.3,2066.8" class="ld"/>
<circle class="bg" cx="1840.8" cy="1938.4" r="21.8"/><text class="bt" x="1840.8" y="1951.6">H</text>
<text class="n1" transform="translate(1917.5,2060.6) scale(.77,1)">2</text><path class="k1" d="M1948.8,2026V2060.6H1944.1V2035.4H1936.8V2032L1941,2031.6L1944.6,2026Z"/>
<path d="M1932,2073.1L1932,2117" class="ld"/>
<text class="n1" transform="translate(2020.9,2120.1) scale(.77,1)">2</text><text class="n1" transform="translate(2046.2,2120.1) scale(.77,1)">0</text>
<path d="M2034.5,2132.7L2034.5,2176.5" class="ld"/>
<circle class="bg" cx="2031.4" cy="2050.6" r="21.8"/><text class="bt" x="2031.4" y="2063.8">H</text>
<path class="k1" d="M2100.6,2126.3V2160.9H2095.9V2135.7H2088.6V2132.3L2092.8,2131.9L2096.4,2126.3Z"/><text class="n1" transform="translate(2119.9,2160.9) scale(.77,1)">9</text>
<path d="M2107.2,2175L2107.2,2220.4" class="ld"/>
<path class="dd" d="M1707,2035.5L1479,1904L1798,1715L1682,1643"/>
<path d="M2117.6,2273.7 L2320.7,2388.7" class="dd"/>
</g>

<!-- g24a.svg -->
<g id="g24a">
<path d="M1522.6,1149.6 L1522.6,1102.9 Q1523.4,1099 1527.8,1097.1 L1555.1,1082.1 Q1559,1080.3 1563.6,1083.4 L1596.6,1102.9 L1569.4,1122.3 L1527.8,1097.1 M1569.4,1122.3 L1548.6,1145.7"/>
<path d="M1535.6,1122.3 Q1549.9,1124.9 1546.5,1141" class="t"/>
<path d="M1501.8,1128.1 Q1491.4,1124.9 1455.1,1145.7 Q1446,1153.5 1448.6,1169.1 Q1449.9,1177.4 1461.6,1178.2"/>
<path d="M1468.1,1184.7 Q1447.3,1186.8 1447.8,1201.6 Q1449.9,1215.8 1465.5,1217.4"/>
<path d="M1657.7,1104.2 L1657.7,1076.9 L1655.1,1074.3 L1596.6,1102.9"/>
<path d="M1475.8,1211.9 L1370.6,1301.6 Q1351.2,1317.7 1350.6,1341.8 L1350.6,1428.8"/>
<path d="M1657.7,1104.2 L1622.6,1124.9"/>
<path d="M1687.5,1121 L1687.5,1093.8 L1684.9,1091.2 L1631.7,1118.4 Q1622.6,1123.6 1613.5,1132.7 L1405.7,1315.8 Q1384.9,1332.7 1383.6,1362.6 L1383.6,1428.8"/>
<path d="M1687.5,1121 L1655.1,1143.1"/>
<path d="M1720,1137.9 L1720,1111.9 L1716.1,1109.4 L1662.9,1137.9 Q1655.1,1142.6 1646,1150.9 L1475.8,1306.8 M1451.2,1328.8 L1430.4,1344.4 Q1416.1,1356.1 1414.8,1371.7 L1414.8,1444.4"/>
<path d="M1720,1137.9 L1683.6,1166.5"/>
<path d="M1752.5,1160 L1752.5,1132.7 L1748.6,1130.1 L1694,1160 Q1683.6,1166 1675.8,1173 L1504.9,1322.3 M1501.8,1339.2 L1465.5,1354.8 Q1447.8,1369.1 1447.3,1387.3 L1447.3,1463.9"/>
<path d="M1752.5,1160 L1717.4,1184.2"/>
<path d="M1784.9,1178.2 L1784.9,1152.2 L1781,1149.6 L1725.2,1179.5 Q1717.4,1184.2 1708.3,1191.2 L1507,1366.5 Q1479.7,1387.3 1478.4,1408.1 L1478.4,1501.6"/>
<path d="M1784.9,1178.2 L1746,1204.2"/>
<path d="M1814.8,1226.2 L1814.8,1170.4 L1812.2,1167.8 L1746,1204.2 Q1735.6,1210.1 1727.8,1217.1 L1535.6,1392.5 Q1509.6,1413.2 1508.3,1431.4 L1508.3,1501.6"/>
<path d="M1797.9,1319.7 L1577.1,1443.9 Q1542.1,1462.6 1540.8,1486 L1540.8,1501.6"/>
<path d="M1797.9,1319.7 Q1787.5,1345.7 1786.2,1370.4"/>
<path d="M1786.2,1370.4 L1579.7,1488.6 Q1575.8,1491.2 1574.5,1501.6"/>
<path d="M1452.5,1324.9 L1452.5,1369.1 M1503.1,1324.9 L1501.8,1340 Q1488.8,1348.3 1475.8,1350.9" class="w"/>
<ellipse cx="1477.7" cy="1324.2" rx="25.5" ry="16.1" class="w"/>
<path d="M1477.1,1174.3 L1477.1,1213.8 L1483.6,1208.1 L1483.6,1247 M1483.6,1208.1 L1517.4,1215.8 Q1548.6,1205.5 1555.6,1182.1 L1555.6,1174.3" class="w" stroke="none"/>
<path d="M1477.1,1174.3 L1477.1,1213.8 M1483.6,1211.9 L1483.6,1247"/>
<path d="M1555.6,1174.3 L1555.1,1187.3 Q1549.9,1202.9 1525.2,1213.2"/>
<path d="M1543.4,1205.5 Q1533,1211.9 1520,1215.8" class="t"/>
<ellipse cx="1516.6" cy="1174.3" rx="39" ry="22.9" class="w"/>
<ellipse cx="1516.6" cy="1172.2" rx="31.2" ry="17.7"/>
</g>

<!-- g24a_l.svg -->
<g id="g24a_l">
<path d="M1516.6,1016.1 L1516.6,1174.3" class="dd"/>
</g>

<!-- g24b.svg -->
<g id="g24b">
<path d="M1509.1,1499.1 L1509.1,1520.2 M1540.8,1499.1 L1540.8,1543.6"/>
<path d="M1352.9,1412.4 L1445.7,1465.2 M1355.9,1410.1 L1382.3,1396.5 M1385.4,1430.5 L1412.5,1416.9 M1417.8,1448.6 L1445.7,1435 M1453.3,1483.3 L1474.4,1472 M1481.9,1502.9 L1504.6,1490.1 M1512.1,1521.8 L1537.8,1507.4 M1543.8,1543.6 L1572.5,1524.8" class="t"/>
<path d="M1574,1524.8 L1573.2,1500.6 Q1574,1493.1 1581.5,1489.3 L1645.1,1454.6"/>
<path d="M1581.5,1500.6 L1628.3,1527.8" class="t"/>
<path d="M1349.9,1410.1 L1333.3,1419.9 Q1330.7,1422.2 1334.8,1424.4 L1581.5,1564 Q1596.6,1570 1611.7,1564 Q1626,1557.7 1622.3,1552.7 Q1621.5,1551.5 1620,1550.9"/>
<path d="M1620,1550.9 L1574,1524.8" class="t"/>
<path d="M1357.4,1440.3 L1334.1,1454.6 Q1330.7,1457.9 1334.8,1461.4 L1368.8,1480.3"/>
<path d="M1441.2,1515.7 L1463.1,1528.5 L1464.6,1535.3 L1581.5,1601 Q1596.6,1606.6 1611.7,1601 Q1626,1594.5 1623,1589.7 Q1622,1588.2 1619.3,1586.9"/>
<path d="M1619.3,1586.9 L1589.1,1570" class="t"/>
<path d="M1357.4,1477.2 L1334.1,1491.6 Q1330.7,1494.9 1334.8,1498.4 L1370.3,1518"/>
<path d="M1456.3,1561 L1463.8,1565.5 L1465.3,1573.8 L1581.5,1639.2 Q1596.6,1644.3 1611.7,1638.7 Q1626,1632.7 1623,1628.1 Q1622,1626.6 1619.3,1625.1"/>
<path d="M1619.3,1625.1 L1589.1,1607" class="t"/>
<path d="M1357.4,1514.2 L1334.1,1527.8 Q1330.7,1531.1 1334.8,1534.6 L1361.2,1548.9 L1361.2,1573.8 L1506.1,1656.1"/>
<path d="M1361.2,1551.9 L1374.8,1555.3 Q1391.4,1561 1403.5,1571.9 Q1415.5,1585.4 1433.6,1589.7 L1463.8,1606.3 L1465.3,1612.3 L1540.8,1655"/>
<path d="M1359.7,1548.9 L1334.1,1564 Q1330.7,1567.3 1335.6,1570.8 L1349.9,1578.8 L1475.9,1652.3"/>
<path d="M1365.7,1474.2 Q1370.3,1471.7 1374.8,1474.2 L1391.4,1484 M1365.7,1511.2 Q1370.3,1508.5 1374.8,1510.9 L1382.3,1515.7 M1365.7,1547.4 Q1370.3,1545.1 1374.8,1547.4 L1392.9,1558 M1442.7,1588.2 L1462.3,1599.5 L1463.8,1606.3 M1459.3,1558.7 L1478.9,1546.7 M1444.2,1588.2 L1466.8,1576.1 M1400.4,1485.5 L1418.6,1475 M1439.7,1511.2 L1460.8,1499.1" class="t"/>
<ellipse cx="1418.6" cy="1539.1" rx="52.1" ry="36.2" transform="rotate(64 1418.6 1539.1)" class="w"/>
<ellipse cx="1421.1" cy="1538.4" rx="42.6" ry="27.9" transform="rotate(64 1421.1 1538.4)"/>
<path d="M1389.9,1491.6 Q1380.8,1509.7 1379.3,1518.7 M1445.7,1521.8 Q1453.3,1536.8 1454.8,1551.9" class="t"/>
</g>

<!-- g24c.svg -->
<g id="g24c">
<path d="M1540.6,1653.5 L1581.3,1676.4 Q1596.7,1682.3 1611.3,1676.2 Q1626.7,1670.1 1623.5,1664.7 Q1622.3,1662.8 1619.8,1662"/>
<path d="M1619.8,1662 L1589.4,1644.5" class="t"/>
<path d="M1506,1655.9 L1546.7,1679.3 M1475.8,1652.3 L1545.5,1692.7"/>
<path d="M1349.3,1582.3 L1349.3,1615.2 L1373.6,1644.5 Q1379.7,1651.1 1387,1646.9"/>
<path d="M1380.9,1596.9 L1380.9,1635.9 L1404.1,1664 Q1411.4,1671.8 1418.7,1665.2 L1418.7,1659.1"/>
<path d="M1413.8,1614 L1413.8,1662.8 L1434.6,1682.3 Q1441.9,1688.8 1448,1683.5"/>
<path d="M1445.5,1632.3 L1445.5,1679.8 L1468.7,1703 Q1476,1709.6 1482.1,1704.2"/>
<path d="M1477.2,1650.6 L1477.2,1701.8 L1501.6,1721.3 Q1510.1,1727.8 1515,1721.3"/>
<path d="M1508.9,1670.1 L1508.9,1721.3 L1534.5,1737.1 Q1543,1743.7 1549.1,1738.3"/>
<path d="M1540.6,1688.4 L1540.6,1738.3 L1563.8,1753 L1573.5,1754.7 L1608.9,1738.3"/>
<path d="M1361.4,1575 L1361.4,1589.6 M1393.1,1594.5 L1393.1,1623.8 M1424.8,1611.6 L1424.8,1648.1" class="t"/>
<path d="M1558.9,1671.3 Q1546.7,1679.3 1545.5,1694.5 Q1545.5,1705.4 1552.1,1712 L1607.6,1744.9 Q1619.8,1748.1 1627.6,1738.3" class="w"/>
<path d="M1560.1,1671.3 L1623.5,1706.6"/>
<ellipse cx="1619.3" cy="1724.9" rx="11.7" ry="19" transform="rotate(28 1619.3 1724.9)" class="w"/>
<ellipse cx="1619.3" cy="1724.9" rx="6.3" ry="12.7" transform="rotate(28 1619.3 1724.9)"/>
<path d="M1633.2,1699.3 L1633.2,1536 Q1634,1526.3 1644.2,1521.4 L1700,1490.2"/>
<path d="M1574,1524.8 L1633.2,1556.7" class="t"/>
<path d="M1610.1,1683.5 L1633.2,1696.9" class="t"/>
</g>

<!-- g24c_l.svg -->
<g id="g24c_l">
<text class="n1" transform="translate(1391.9,1762.7) scale(.77,1)">2</text><text class="n1" transform="translate(1417.2,1762.7) scale(.77,1)">4</text>
<path d="M1405.3,1655.4L1405.3,1717.6" class="ld"/>
</g>

<!-- g24d.svg -->
<g id="g24d">
<path d="M1885.5,1340.1 Q1910.2,1379.3 1914.5,1425.7 Q1918.9,1472.2 1907.3,1527.3 Q1898.6,1562.1 1882.6,1578.1 L1869.6,1583.9"/>
<path d="M1868.1,1419.9 L1840.5,1437.3 L1840.5,1570.8 M1868.1,1419.9 Q1881.2,1472.2 1875.4,1547.6 Q1872.5,1559.2 1866.7,1566.5"/>
<path d="M1884.1,1579.5 L1884.1,1646.3 L1858,1663.7 Q1852.2,1667.2 1846.3,1663.7 L1820.2,1646.3 M1858,1599.8 L1858,1663.7 M1820.2,1627.4 L1820.2,1646.3"/>
<path d="M1831.8,1626 Q1841.1,1631.8 1836.2,1646.3" class="t"/>
<path d="M1794.1,1240 Q1770.9,1251.6 1762.2,1266.1 Q1754.9,1280.6 1756.4,1335.8"/>
<path d="M1834.7,1240 L1882.6,1271.9 L1885.5,1340.1 M1882.6,1271.9 L1849.3,1289.3 L1852.2,1356.1 L1860.9,1366.2 L1885.5,1351.7"/>
<path d="M1849.3,1289.3 Q1843.4,1282.9 1834.7,1283.5 L1820.2,1288.8 Q1810.1,1296.6 1817.3,1305.3 L1850.7,1354.6"/>
<path d="M1794.1,1245.8 Q1808.6,1269 1813.8,1292.2 Q1817.3,1307.3 1828.9,1315.4 Q1844,1327.1 1852.2,1356.1" class="t"/>
<path d="M1762.2,1306.7 Q1765.1,1318.9 1771.5,1327.1" class="t"/>
<ellipse cx="1831.8" cy="1296.6" rx="7.5" ry="11.6" transform="rotate(-20 1831.8 1296.6)"/>
<path d="M1829.5,1289.3 Q1838.2,1293.7 1836.2,1305.3" class="t"/>
<path d="M1786.9,1369.7 Q1805.7,1385.1 1828.9,1389.4 L1852.2,1391.5"/>
<path d="M1823.1,1390.9 L1804.3,1404 L1828.9,1414.1 L1830.7,1418.5"/>
<path d="M1633.1,1740 L1633.1,1538.9 Q1633.1,1531.4 1640.3,1527.3 L1830.4,1417.6 L1834.7,1425.7 L1834.7,1579.5"/>
<path d="M1640.9,1640.5 L1640.9,1543.3 Q1641.8,1537.2 1647.6,1533.7 L1820.2,1433.8 Q1826.6,1430.9 1826.6,1440.2 L1826.6,1531.6"/>
<path d="M1620,1533.1 L1633.1,1538.9" class="t"/>
<path d="M1836.2,1579.5 Q1840.5,1567.9 1855.1,1566.5 Q1870.1,1567.9 1868.1,1583.9 Q1865.2,1602.7 1849.3,1611.4 L1799.9,1640.5 L1794.1,1637.6 L1794.1,1620.7" class="w"/>
<ellipse cx="1852.2" cy="1588.2" rx="8.7" ry="15.1" transform="rotate(28 1852.2 1588.2)"/>
<ellipse cx="1852.2" cy="1588.2" rx="4.9" ry="11" transform="rotate(28 1852.2 1588.2)" class="t"/>
<ellipse cx="1737.5" cy="1530.2" rx="34.2" ry="49.3" transform="rotate(22 1737.5 1530.2)"/>
<ellipse cx="1740.4" cy="1530.2" rx="26.1" ry="43.5" transform="rotate(22 1740.4 1530.2)" class="t"/>
<ellipse cx="1798.5" cy="1579.5" rx="31.3" ry="48.8" transform="rotate(22 1798.5 1579.5)"/>
<ellipse cx="1801.4" cy="1581" rx="23.2" ry="40.6" transform="rotate(22 1801.4 1581)" class="t"/>
<ellipse cx="1682.4" cy="1643.4" rx="34.8" ry="49.9" transform="rotate(22 1682.4 1643.4)"/>
<ellipse cx="1685.3" cy="1644.8" rx="26.7" ry="43.5" transform="rotate(22 1685.3 1644.8)" class="t"/>
<path d="M1714.3,1492.5 Q1698.4,1509.9 1696.9,1541.8 Q1698.4,1565 1707.1,1579.5 Q1715.8,1588.2 1707.1,1605.6 Q1698.4,1617.2 1715.8,1637.6"/>
<path d="M1756.4,1472.2 Q1776.7,1480.9 1778.2,1509.9 Q1776.7,1530.2 1782.5,1541.8"/>
<path d="M1756.4,1472.2 L1794.1,1451.8 M1794.1,1451.8 L1805.7,1478 M1805.7,1478 L1823.1,1466.3" class="t"/>
<path d="M1720.1,1536 L1731.7,1528.7 L1770.9,1553.4 L1759.3,1559.2 Z"/>
<path d="M1715.8,1582.4 Q1736.1,1573.7 1756.4,1567.9 M1721.6,1591.1 Q1741.9,1585.3 1756.4,1576.6"/>
<path d="M1741.9,1588.2 Q1750.6,1617.2 1747.7,1628.9 Q1756.4,1634.7 1765.1,1628.9"/>
<ellipse cx="1649" cy="1569.4" rx="7.3" ry="13.9" transform="rotate(25 1649 1569.4)"/>
<ellipse cx="1649" cy="1569.4" rx="3.8" ry="9.6" transform="rotate(25 1649 1569.4)" class="t"/>
<ellipse cx="1820.2" cy="1469.3" rx="7.3" ry="13.9" transform="rotate(25 1820.2 1469.3)"/>
<ellipse cx="1820.2" cy="1469.3" rx="3.8" ry="9.6" transform="rotate(25 1820.2 1469.3)" class="t"/>
<ellipse cx="1678" cy="1554.9" rx="6.4" ry="6.4"/>
<ellipse cx="1789.8" cy="1488.1" rx="6.4" ry="6.4"/>
<path d="M1641.8,1530.2 Q1654.8,1541.8 1663.5,1533.1 M1782.5,1443.1 Q1794.1,1457.6 1805.7,1448.9" class="t"/>
<path d="M1641.8,1588.2 Q1654.8,1582.4 1666.4,1567.9 Q1672.2,1553.4 1686.7,1547.6"/>
<path d="M1678,1692.7 L1689.6,1702 L1779.6,1652.1 L1779.6,1638.1 L1765.1,1628.9 M1689.6,1702 L1689.6,1715.9 M1675.1,1701.4 L1675.1,1723.2 L1620,1692.7 M1779.6,1652.1 L1794.1,1643.9 L1794.1,1637.6"/>
<path d="M1730.3,1692.7 Q1741.9,1715.9 1756.4,1708.7 L1770.9,1700"/>
<path d="M1646.1,1669.5 Q1649,1686.9 1663.5,1692.7 M1715.8,1686.9 Q1718.7,1692.7 1727.4,1692.7" class="t"/>
<path d="M1672.2,1626 L1707.1,1643.4 M1678,1669.5 L1695.4,1643.4" class="t"/>
</g>

<!-- g26.svg -->
<g id="g26">
<path d="M1136.3,1239.7 L1323.4,1128 Q1333.6,1124.5 1334.5,1136.7 L1336.5,1316.6 Q1336.5,1328.2 1329.3,1334 L1143.5,1450.1 Q1127.6,1456.5 1126.7,1441.4 L1126.7,1255.7 Q1127.6,1244.1 1136.3,1239.7 Z" class="w"/>
<path d="M1166.7,1267.3 Q1169.6,1255.7 1184.2,1242.6 L1279.9,1173 Q1297.3,1167.2 1304.6,1180.2 Q1307.5,1186 1307.5,1197.6 L1307.5,1296.3 Q1306,1310.8 1291.5,1322.4 L1175.4,1402.2 Q1158,1409.5 1152.2,1392.1 L1152.2,1287.6 Q1155.1,1278.9 1166.7,1267.3 Z"/>
<path d="M1324.9,1139 Q1308.4,1144 1314.2,1159.9"/>
<path d="M1149.3,1242 Q1133.4,1248.4 1139.2,1265.8"/>
<path d="M1149.3,1421.1 Q1134.2,1428.3 1139.2,1443.7"/>
<path d="M1324.9,1318.9 Q1309.5,1325.9 1313.3,1340.4"/>
<text class="n1" transform="translate(1282.6,1094.6) scale(.77,1)">2</text><text class="n1" transform="translate(1307.9,1094.6) scale(.77,1)">6</text>
<circle class="bg" cx="1295" cy="1023.5" r="21.8"/><text class="bt" x="1295" y="1036.7">C</text>
<path d="M1297.3,1106.2L1297.3,1151.2" class="ld"/>
<text class="n1" transform="translate(1405.1,1067.1) scale(.77,1)">3</text><path class="k1" d="M1436.4,1032.5V1067.1H1431.7V1041.9H1424.4V1038.5L1428.6,1038.1L1432.2,1032.5Z"/>
<path d="M1421.2,1078.7L1421.2,1120.7" class="ld"/>
<g transform="translate(1365,1160) rotate(-27.5)"><path class="w" d="M31,-9.6 L111,-9.6 A4,9.6 0 0 1 111,9.6 L31,9.6 Z"/><path class="t" d="M55,-9.6 A4,9.6 0 0 1 55,9.6"/><path class="t" d="M60.2,-9.6 A4,9.6 0 0 1 60.2,9.6"/><path class="t" d="M65.4,-9.6 A4,9.6 0 0 1 65.4,9.6"/><path class="t" d="M70.6,-9.6 A4,9.6 0 0 1 70.6,9.6"/><path class="t" d="M75.8,-9.6 A4,9.6 0 0 1 75.8,9.6"/><path class="t" d="M81,-9.6 A4,9.6 0 0 1 81,9.6"/><path class="t" d="M86.2,-9.6 A4,9.6 0 0 1 86.2,9.6"/><path class="t" d="M91.4,-9.6 A4,9.6 0 0 1 91.4,9.6"/><path class="t" d="M96.6,-9.6 A4,9.6 0 0 1 96.6,9.6"/><path class="t" d="M101.8,-9.6 A4,9.6 0 0 1 101.8,9.6"/><path class="t" d="M107,-9.6 A4,9.6 0 0 1 107,9.6"/><path class="w" d="M0,-18 L31,-18 A7.6,18 0 0 1 31,18 L0,18 A7.6,18 0 0 1 0,-18 Z"/><ellipse class="w" cx="0" cy="0" rx="7.6" ry="18"/><ellipse class="t" cx="0" cy="0" rx="4.2" ry="9.9"/></g>
<text class="n1" transform="translate(1004.2,906.2) scale(.77,1)">2</text><text class="n1" transform="translate(1029.5,906.2) scale(.77,1)">8</text>
<text class="n1" transform="translate(1070.1,945.6) scale(.77,1)">2</text><text class="n1" transform="translate(1095.4,945.6) scale(.77,1)">7</text>
</g>

<!-- g27.svg -->
<g id="g27">
<path d="M969.8,988.6 L888.6,1083.5 Q885.4,1089.7 892.4,1092.7 L904.9,1098.4 L934.8,1112.2 L1065.8,1032.3 L1002.2,999.9 Z" class="w"/>
<path d="M1002.2,999.9 L1004.7,1004.9 L1060.8,1033.6"/>
<path d="M989.7,1010.3 Q979.7,1011.8 974.7,1019.3 L922.8,1081.7 Q919.8,1086.7 926.1,1089.7 L949.8,1092.2" class="t"/>
<path d="M989.7,1010.3 L1055.9,1044.8" class="t"/>
<path d="M934.8,1079.7 L954.8,1092.2" class="t"/>
<path d="M1065.8,1031.1 Q1058.4,1008.6 1075.8,999.4 Q1087.1,994.4 1095.8,1002.9 L1107,1007.3" class="w"/>
<path d="M891.1,1134.6 Q886.9,1110.9 902.4,1100.9 Q913.6,1095.2 922.8,1102.2 L934.8,1112.2 L923.6,1132.1 L923.6,1144.6 Z" class="w"/>
<path d="M881.2,1130.9 Q883.7,1122.1 892.4,1112.2" class="t"/>
<path d="M858.7,1265.4 L841.2,1286.6 L891.1,1316.6 L917.3,1302.8 L917.3,1294.6 Z" class="w"/>
<path d="M841.2,1286.6 L841.2,1289.6 Q841.2,1291.6 845,1293.3 L891.1,1320.8 L917.3,1307.1 L917.3,1302.8 L891.1,1316.6 Z" class="w"/>
<path d="M858.7,1229 L841.2,1250.2 L891.1,1280.1 L917.3,1266.4 L917.3,1258.2 Z" class="w"/>
<path d="M841.2,1250.2 L841.2,1253.2 Q841.2,1255.2 845,1256.9 L891.1,1284.4 L917.3,1270.6 L917.3,1266.4 L891.1,1280.1 Z" class="w"/>
<path d="M897.4,1282.6 L916.1,1292.6" class="t"/>
<path d="M904.9,1278.9 L904.9,1303.8" class="t"/>
<path d="M858.7,1192.5 L841.2,1213.7 L891.1,1243.7 L917.3,1230 L917.3,1221.7 Z" class="w"/>
<path d="M841.2,1213.7 L841.2,1216.7 Q841.2,1218.7 845,1220.5 L891.1,1247.9 L917.3,1234.2 L917.3,1230 L891.1,1243.7 Z" class="w"/>
<path d="M897.4,1246.2 L916.1,1256.2" class="t"/>
<path d="M904.9,1242.4 L904.9,1267.4" class="t"/>
<path d="M858.7,1156.1 L841.2,1177.3 L891.1,1207.2 L917.3,1193.5 L917.3,1185.3 Z" class="w"/>
<path d="M841.2,1177.3 L841.2,1180.3 Q841.2,1182.3 845,1184 L891.1,1211.5 L917.3,1197.8 L917.3,1193.5 L891.1,1207.2 Z" class="w"/>
<path d="M897.4,1209.7 L916.1,1219.7" class="t"/>
<path d="M904.9,1206 L904.9,1231" class="t"/>
<path d="M858.7,1119.7 L841.2,1140.9 L891.1,1170.8 L917.3,1157.1 L917.3,1148.9 Z" class="w"/>
<path d="M841.2,1140.9 L841.2,1143.9 Q841.2,1145.9 845,1147.6 L891.1,1175.1 L917.3,1161.3 L917.3,1157.1 L891.1,1170.8 Z" class="w"/>
<path d="M897.4,1173.3 L916.1,1183.3" class="t"/>
<path d="M904.9,1169.6 L904.9,1194.5" class="t"/>
<path d="M902.4,1315.6 L917.3,1324.3" class="t"/>
<path d="M904.9,1314.3 L904.9,1321.8" class="t"/>
<path d="M929.8,1110.2 Q917.3,1117.2 917.3,1134.6 L917.3,1319.3 Q917.8,1334.3 926.1,1339.8 L939.8,1335.5 L934.8,1112.2 Z" class="w"/>
<path d="M929.8,1110.2 L1107,1006.1 Q1119.5,1002.9 1127.5,1010.3 L1112,1008.6 L934.8,1112.2 Z" class="w"/>
<path d="M934.8,1112.2 L1112,1008.6 Q1130.7,1004.4 1130.7,1024.8 L1130.7,1202 Q1129.5,1214.5 1117,1223.2 L939.8,1335.5 Q924.8,1341.8 923.6,1324.3 L923.6,1132.1 Q924.8,1117.2 934.8,1112.2 Z" class="w"/>
<path d="M1119.5,1024.8 Q1104.5,1029.8 1110.8,1046"/>
<path d="M947.3,1125.9 Q932.8,1130.1 937.8,1145.1"/>
<path d="M947.3,1304.3 Q932.8,1308.8 937.8,1325.5"/>
<path d="M1120.7,1204.5 Q1107,1209 1107.5,1223.2"/>
<path d="M948.5,1163.3 Q952.3,1149.6 964.8,1139.6 L1079.6,1059.8 Q1087.1,1056 1094.5,1058.5 L1114.5,1069.7 Q1122,1074.7 1122,1084.7 L1122,1192 Q1120.7,1202 1114.5,1212 L1100.8,1232 Q1094.5,1239.4 1084.6,1244.4 L989.7,1300.6 Q977.2,1305.6 964.8,1299.3 L952.3,1291.9 Q946,1286.9 946,1276.9 L946,1174.6 Q946,1167.1 948.5,1163.3 Z"/>
<path d="M958.5,1167.1 Q961,1157.1 971,1148.4 L1080.8,1069.7 Q1087.1,1066.7 1092,1069.2 L1108.3,1078.5 Q1113.3,1082.2 1113.3,1089.7 L1113.3,1188.3 Q1112,1197 1107,1204.5 L1094.5,1223.2 Q1089.5,1230.7 1080.8,1235 L988.5,1290.6 Q978.5,1294.3 969.8,1289.4 L962.3,1284.4 Q956,1280.6 956,1271.9 L956,1177.1 Q956,1170.8 958.5,1167.1 Z"/>
<path d="M1022.2,1105.9 L1022.2,1119.7" class="t"/>
<path d="M1017.2,1153.3 Q1012.2,1182 986,1206.5" class="t"/>
<path d="M1013.4,1187 L1087.1,1230.7" class="t"/>
<path d="M1083.3,1174.6 L1109.5,1189.5" class="t"/>
<path d="M1027.2,1119.7 L1067.1,1139.6" class="t"/>
<path d="M989.7,1294.3 L1082.1,1239.4 Q1092,1233.2 1098.3,1224.5 L1117,1194.5" class="t"/>
<path d="M1109.5,1207 L1103.3,1223.2" class="t"/>
<g transform="translate(1070.8,1170.8) rotate(-151.4)"><path class="w" d="M0,-9.5 L78.2,-9.5 A5.9,9.5 0 0 1 78.2,9.5 L0,9.5 A5.9,9.5 0 0 1 0,-9.5 Z"/><ellipse class="w" cx="0" cy="0" rx="5.9" ry="9.5"/></g>
<g transform="translate(1009.2,1230.7) rotate(-146.7)"><path class="w" d="M0,-9.5 L54.6,-9.5 A5.9,9.5 0 0 1 54.6,9.5 L0,9.5 A5.9,9.5 0 0 1 0,-9.5 Z"/><ellipse class="w" cx="0" cy="0" rx="5.9" ry="9.5"/></g>
<g transform="translate(1071.6,1087.7) rotate(-148.9)"><path class="w" d="M0,-8.5 L15.5,-8.5 A5.3,8.5 0 0 1 15.5,8.5 L0,8.5 A5.3,8.5 0 0 1 0,-8.5 Z"/><ellipse class="w" cx="0" cy="0" rx="5.3" ry="8.5"/></g>
<g transform="translate(984.2,961.2) rotate(25.5)"><path class="w" d="M19.5,-8.2 L82.4,-8.2 A3.5,8.2 0 0 1 82.4,8.2 L19.5,8.2 Z"/><path class="t" d="M47.4,-8.2 A3.5,8.2 0 0 1 47.4,8.2"/><path class="t" d="M52.2,-8.2 A3.5,8.2 0 0 1 52.2,8.2"/><path class="t" d="M56.9,-8.2 A3.5,8.2 0 0 1 56.9,8.2"/><path class="t" d="M61.6,-8.2 A3.5,8.2 0 0 1 61.6,8.2"/><path class="t" d="M66.4,-8.2 A3.5,8.2 0 0 1 66.4,8.2"/><path class="t" d="M71.1,-8.2 A3.5,8.2 0 0 1 71.1,8.2"/><path class="t" d="M75.9,-8.2 A3.5,8.2 0 0 1 75.9,8.2"/><path class="t" d="M80.6,-8.2 A3.5,8.2 0 0 1 80.6,8.2"/><path class="w" d="M0,-15.5 L19.5,-15.5 A6.5,15.5 0 0 1 19.5,15.5 L0,15.5 A6.5,15.5 0 0 1 0,-15.5 Z"/><ellipse class="w" cx="0" cy="0" rx="6.5" ry="15.5"/><ellipse class="t" cx="0" cy="0" rx="3.6" ry="8.5"/></g>
<path d="M1018.4,920L1018.4,973.7" class="ld"/>
<path d="M1084.1,957.4L1084.1,1002.4" class="ld"/>
</g>

<!-- g29.svg -->
<g id="g29">
<path d="M1490.1,916.2 L1490.1,941.8 Q1493.2,952.4 1517.3,954.5 Q1541.4,952.4 1545.1,941.8 L1545.1,916.2" class="w"/>
<path d="M1490.1,926.8 Q1517.3,939.4 1545.1,926.8 M1490.1,933.4 Q1517.3,946.1 1545.1,933.4"/>
<path d="M1481.1,869.4 L1477.5,896.6 Q1481.1,915.3 1517.3,919.8 Q1553.5,915.3 1557.1,894.2 L1552.9,868.8" class="w"/>
<path d="M1479.9,886 Q1484.1,902.6 1517.3,906.2 Q1550.5,902.6 1555,886" class="t"/>
<path d="M1484.7,875.4 L1484.7,901.1"/>
<path d="M1493.2,883 L1493.2,908"/>
<path d="M1502.8,887.5 L1502.8,912.3"/>
<path d="M1512.8,889 L1512.8,914.1"/>
<path d="M1522.7,889 L1522.7,914.1"/>
<path d="M1532.4,887.5 L1532.4,912.3"/>
<path d="M1541.4,883 L1541.4,908.6"/>
<path d="M1549.3,877 L1549.3,902.6"/>
<ellipse cx="1517.3" cy="867.9" rx="35.6" ry="21.1" class="w"/>
<path d="M1484.1,860.4 L1481.1,864.9 M1493.2,851.9 L1490.7,856.1 M1508.2,847.7 L1507,851.3 M1526.3,847.7 L1527.6,851.3 M1541.4,851.9 L1543.9,856.1 M1551.1,860.4 L1554.1,864.6" class="t"/>
<ellipse cx="1514.9" cy="984.7" rx="30.2" ry="16.6" class="w"/>
<ellipse cx="1514.9" cy="983.5" rx="24.1" ry="12.1"/>
<text class="n1" transform="translate(1643.5,887.5) scale(.77,1)">2</text><text class="n1" transform="translate(1668.8,887.5) scale(.77,1)">9</text>
<path d="M1555,870L1620.5,870" class="ld"/>
<text class="n1" transform="translate(1643.5,1000.7) scale(.77,1)">3</text><text class="n1" transform="translate(1668.8,1000.7) scale(.77,1)">0</text>
<path d="M1545.1,984.1L1620.5,984.1" class="ld"/>
<g transform="translate(1251.5,1636.2) rotate(-29.3)"><path class="w" d="M0,-39 L61.5,-39 A26.5,39 0 0 1 61.5,39 L0,39 A26.5,39 0 0 1 0,-39 Z"/><ellipse class="w" cx="0" cy="0" rx="26.5" ry="39"/></g>
<ellipse cx="1251.5" cy="1636.2" rx="14.3" ry="24.4" transform="rotate(-29 1251.5 1636.2)"/>
<path d="M1239.3,1617.5 Q1233.6,1633.8 1251.5,1654.9" class="t"/>
<path d="M1261.3,1610.2 Q1284,1630.5 1277.5,1663" class="t"/>
<text class="n1" transform="translate(1282.7,1762.9) scale(.77,1)">2</text><text class="n1" transform="translate(1308,1762.9) scale(.77,1)">5</text>
<path d="M1296.2,1639.4L1296.2,1717.4" class="ld"/>
</g>

<!-- g32.svg -->
<g id="g32">
<g transform="translate(2091.4,1150.6) rotate(-28.6)"><path class="w" d="M0,-27.6 L125.2,-27.6 A12.4,27.6 0 0 1 125.2,27.6 L0,27.6 A12.4,27.6 0 0 1 0,-27.6 Z"/><ellipse class="w" cx="0" cy="0" rx="12.4" ry="27.6"/></g>
<path d="M2128.1,1105.7 L2186.9,1073.2 L2189.4,1077.1 L2134.5,1107.2" class="t"/>
<path d="M2184.3,1069.9 L2189.4,1077.1"/>
<ellipse cx="2116.1" cy="1137.1" rx="12.4" ry="27.6" transform="rotate(-28.6 2116.1 1137.1)"/>
<ellipse cx="2138.5" cy="1124.9" rx="12.4" ry="27.6" transform="rotate(-28.6 2138.5 1124.9)"/>
<g transform="translate(2066.8,1164) rotate(-28.6)"><path class="w" d="M0,-31.9 L30.6,-31.9 A14.4,31.9 0 0 1 30.6,31.9 L0,31.9 A14.4,31.9 0 0 1 0,-31.9 Z"/><ellipse class="w" cx="0" cy="0" rx="14.4" ry="31.9"/></g>
<g transform="translate(2044.4,1176.3) rotate(-28.6)"><path class="w" d="M0,-35.8 L30.6,-35.8 A16.1,35.8 0 0 1 30.6,35.8 L0,35.8 A16.1,35.8 0 0 1 0,-35.8 Z"/><ellipse class="w" cx="0" cy="0" rx="16.1" ry="35.8"/></g>
<g transform="translate(1999.5,1184.7) rotate(-28.6)"><path class="w" d="M0,-38.3 L43.4,-38.3 A17.2,38.3 0 0 1 43.4,38.3 L0,38.3 A17.2,38.3 0 0 1 0,-38.3 Z"/><ellipse class="w" cx="0" cy="0" rx="17.2" ry="38.3"/></g>
<g transform="translate(1978.5,1220.9) rotate(-28.6)"><path class="w" d="M0,-38.3 L35.8,-38.3 A17.2,38.3 0 0 1 35.8,38.3 L0,38.3 A17.2,38.3 0 0 1 0,-38.3 Z"/><ellipse class="w" cx="0" cy="0" rx="17.2" ry="38.3"/></g>
<g transform="translate(1943.5,1231.3) rotate(-28.6)"><path class="w" d="M0,-35.8 L35.8,-35.8 A16.1,35.8 0 0 1 35.8,35.8 L0,35.8 A16.1,35.8 0 0 1 0,-35.8 Z"/><ellipse class="w" cx="0" cy="0" rx="16.1" ry="35.8"/></g>
<path d="M1932,1196.8 A16.1,35.8 -28.6 0 1 1966.2,1259.7" class="t"/>
<path d="M1937.6,1193.8 A16.1,35.8 -28.6 0 1 1971.9,1256.6" class="t"/>
<g transform="translate(1900.9,1254.5) rotate(-28.6)"><path class="w" d="M0,-24.3 L51.1,-24.3 A13.3,24.3 0 0 1 51.1,24.3 L0,24.3 A13.3,24.3 0 0 1 0,-24.3 Z"/><ellipse class="w" cx="0" cy="0" rx="13.3" ry="24.3"/></g>
<path d="M1907.2,1235.4 Q1917.5,1253.3 1911.1,1273.7" class="t"/>
<path d="M2132,1042.6 L2186.9,1014.5 Q2192,1012.7 2192,1018.3 L2192,1027.3 L2137.1,1056.6 Q2130.7,1058.7 2130.2,1051.5 Z" class="w"/>
<path d="M2133.8,1049.5 L2191,1020.4" class="t"/>
<g transform="translate(2266,1050.2) rotate(-26.6)"><path class="w" d="M0,-75.3 L31.4,-75.3 A53.5,75.3 0 0 1 31.4,75.3 L0,75.3 A53.5,75.3 0 0 1 0,-75.3 Z"/><ellipse class="w" cx="0" cy="0" rx="53.5" ry="75.3"/></g>
<ellipse cx="2267.3" cy="1051" rx="48" ry="67.7" transform="rotate(-26.6 2267.3 1051)"/>
<ellipse cx="2268.6" cy="1052" rx="42.1" ry="60.8" transform="rotate(-26.6 2268.6 1052)" class="t"/>
<ellipse cx="2269.9" cy="1052.8" rx="35.8" ry="52.4" transform="rotate(-26.6 2269.9 1052.8)"/>
<ellipse cx="2271.7" cy="1054.1" rx="30.1" ry="45.5" transform="rotate(-26.6 2271.7 1054.1)"/>
<path d="M2258.4,1023.4 Q2289,1043.9 2291.6,1089.8" class="t"/>
<g transform="translate(2194.5,1271.1) rotate(-26.6)"><path class="w" d="M0,-8.2 L42.8,-8.2 A4.1,8.2 0 0 1 42.8,8.2 L0,8.2 A4.1,8.2 0 0 1 0,-8.2 Z"/><ellipse class="w" cx="0" cy="0" rx="4.1" ry="8.2"/></g>
<text class="n1" transform="translate(2016.4,1024.7) scale(.77,1)">3</text><text class="n1" transform="translate(2041.7,1024.7) scale(.77,1)">2</text>
<path d="M2032.4,1036.2L2032.4,1137.1" class="ld"/>
<text class="n1" transform="translate(2144.1,949.4) scale(.77,1)">3</text><text class="n1" transform="translate(2169.4,949.4) scale(.77,1)">3</text>
<path d="M2159.3,960.9L2159.3,1029.8" class="ld"/>
<text class="n1" transform="translate(2237.3,897.8) scale(.77,1)">3</text><text class="n1" transform="translate(2262.6,897.8) scale(.77,1)">4</text>
<path d="M2252,908.5L2252,972.4" class="ld"/>
<text class="n1" transform="translate(2199.8,1208.6) scale(.77,1)">3</text><text class="n1" transform="translate(2225.1,1208.6) scale(.77,1)">9</text>
<path d="M2213.7,1218.8L2213.7,1258.4" class="ld"/>
</g>

<!-- g35.svg -->
<g id="g35">
<ellipse cx="2359.3" cy="997.3" rx="26.8" ry="43.1" transform="rotate(-20 2359.3 997.3)" class="w"/>
<ellipse cx="2360.1" cy="998.1" rx="21.5" ry="37.4" transform="rotate(-20 2360.1 998.1)"/>
<path d="M2379.6,975.8 L2390.2,990" stroke="#fff" stroke-width="7"/>
<path d="M2376.4,973 L2386.1,977.8 M2381.3,990.8 L2391.8,994.9" class="t"/>
<ellipse cx="2438.1" cy="950.2" rx="56.9" ry="76.4" transform="rotate(-22 2438.1 950.2)" class="w"/>
<ellipse cx="2440.2" cy="952.6" rx="45.5" ry="64.2" transform="rotate(-22 2440.2 952.6)"/>
<path d="M2410.5,889.3 L2414.6,880.3 L2434.1,880.3 L2437.3,902.7 L2423.9,905.5 Z" class="w"/>
<path d="M2437.3,902.7 L2442.2,889.3 L2456.4,898.6 L2451.1,914.9 L2440.2,912.8 Z" class="w"/>
<path d="M2432.4,893.3 L2437.3,902.7" stroke="#fff" stroke-width="6"/>
<ellipse cx="2424.3" cy="891.7" rx="2.8" ry="3.7"/>
<ellipse cx="2446.3" cy="902.7" rx="2.8" ry="3.7"/>
<g transform="translate(2533.6,893.3) rotate(-27.2)"><path class="w" d="M0,-73.1 L16.9,-73.1 A54.1,73.1 0 0 1 16.9,73.1 L0,73.1 A54.1,73.1 0 0 1 0,-73.1 Z"/><ellipse class="w" cx="0" cy="0" rx="54.1" ry="73.1"/></g>
<ellipse cx="2535.6" cy="892.5" rx="60.9" ry="68.3" transform="rotate(-27 2535.6 892.5)" class="t"/>
<ellipse cx="2543.8" cy="898.6" rx="40.6" ry="58.9" transform="rotate(-27 2543.8 898.6)"/>
<ellipse cx="2545" cy="899.8" rx="34.9" ry="52" transform="rotate(-27 2545 899.8)"/>
<ellipse cx="2546.2" cy="901.5" rx="28.4" ry="43.9" transform="rotate(-27 2546.2 901.5)"/>
<path d="M2566.1,860 Q2584.4,892.5 2568.1,945.3 M2527.5,945.3 Q2551.9,965.6 2580.3,953.5" class="t"/>
<text class="n1" transform="translate(2330,843.8) scale(.77,1)">3</text><text class="n1" transform="translate(2355.3,843.8) scale(.77,1)">5</text>
<path d="M2345.5,855.9L2345.5,953.5" class="ld"/>
<text class="n1" transform="translate(2399.1,803.1) scale(.77,1)">3</text><text class="n1" transform="translate(2424.4,803.1) scale(.77,1)">6</text>
<path d="M2412.5,817.4L2412.5,888.5" class="ld"/>
<text class="n1" transform="translate(2487.6,752.4) scale(.77,1)">3</text><text class="n1" transform="translate(2512.9,752.4) scale(.77,1)">7</text>
<path d="M2503.1,762.5L2503.1,827.5" class="ld"/>
<circle class="bg" cx="2500.3" cy="683.3" r="21.8"/><text class="bt" x="2500.3" y="696.5">C</text>
<path d="M2868.8,898.6 L2868.8,914.9 Q2881.8,925 2895.2,914.9 L2895.2,898.6" class="w"/>
<ellipse cx="2881" cy="889.3" rx="25.2" ry="15.4" class="w"/>
<path d="M2856.6,892.5 Q2881,912.8 2906.2,892.5" class="t"/>
<text class="n1" transform="translate(2948.8,904.7) scale(.77,1)">7</text><path class="k1" d="M2980.1,870.1V904.7H2975.4V879.5H2968.1V876.1L2972.3,875.7L2975.9,870.1Z"/>
<path d="M2901.3,889.3L2927.7,889.3" class="ld"/>
<ellipse cx="2881.8" cy="939.2" rx="19.1" ry="5.3"/>
<ellipse cx="2881.8" cy="945.5" rx="19.1" ry="5.3"/>
<ellipse cx="2881.8" cy="951.8" rx="19.1" ry="5.3"/>
<ellipse cx="2881.8" cy="958.1" rx="19.1" ry="5.3"/>
<ellipse cx="2881.8" cy="964.4" rx="19.1" ry="5.3"/>
<ellipse cx="2881.8" cy="970.7" rx="19.1" ry="5.3"/>
<ellipse cx="2881.8" cy="977" rx="19.1" ry="5.3"/>
<ellipse cx="2881.8" cy="983.3" rx="19.1" ry="5.3"/>
<ellipse cx="2881.8" cy="989.6" rx="19.1" ry="5.3"/>
<ellipse cx="2881.8" cy="995.9" rx="19.1" ry="5.3"/>
<ellipse cx="2881.8" cy="1002.2" rx="19.1" ry="5.3"/>
<ellipse cx="2881.8" cy="1008.5" rx="19.1" ry="5.3"/>
<ellipse cx="2881.8" cy="1014.8" rx="19.1" ry="5.3"/>
<ellipse cx="2881.8" cy="1021.1" rx="19.1" ry="5.3"/>
<ellipse cx="2881.8" cy="1027.4" rx="19.1" ry="5.3"/>
<ellipse cx="2881.8" cy="1033.7" rx="19.1" ry="5.3"/>
<ellipse cx="2881.8" cy="1040" rx="19.1" ry="5.3"/>
<path d="M2862.7,939.2 L2862.7,1040.8 M2901.3,939.2 L2901.3,1040.8" class="t"/>
<text class="n1" transform="translate(2950.4,1011.1) scale(.77,1)">7</text><text class="n1" transform="translate(2975.7,1011.1) scale(.77,1)">0</text>
<path d="M2899.2,996.1L2927.7,996.1" class="ld"/>
<ellipse cx="2881.8" cy="1078.6" rx="26.4" ry="17.1" class="w"/>
<path d="M2870.8,1073.3 L2870.8,1066.4 Q2881.8,1057.1 2893.2,1066.4 L2893.2,1073.3 Q2881.8,1081.4 2870.8,1073.3" class="w"/>
<text class="n1" transform="translate(2950.4,1093.6) scale(.77,1)">6</text><text class="n1" transform="translate(2975.7,1093.6) scale(.77,1)">9</text>
<path d="M2897.2,1079.4L2927.7,1079.4" class="ld"/>
<path d="M2845.5,1125.1 L2845.5,1166.9 L2851,1168.5 L2851,1176.9 L2846.9,1166.9 L2835.2,1179.4 L2835.2,1198.6 L2859.4,1214.5 L2849.4,1214.5 L2849.4,1252 L2853.5,1253.7 L2853.5,1275.4 L2856.9,1282.1 L2860.2,1292.1 Q2881.9,1302.1 2903.6,1292.1 L2907,1282.1 L2912,1275.4 L2912,1253.7 L2914.5,1252 L2914.5,1214.5 L2907,1214.5 L2928.7,1198.6 L2928.7,1179.4 L2917,1166.9 L2912.8,1176.9 L2912.8,1168.5 L2919.5,1166.9 L2919.5,1125.1" class="w" stroke="none"/>
<path d="M2845.5,1125.1 L2845.5,1166.9 Q2881.9,1183.6 2919.5,1166.9 L2919.5,1125.1"/>
<path d="M2845.5,1138.5 Q2881.9,1155.2 2919.5,1138.5" class="t"/>
<path d="M2845.5,1143.5 Q2881.9,1160.2 2919.5,1143.5" class="t"/>
<path d="M2845.5,1148.5 Q2881.9,1165.2 2919.5,1148.5" class="t"/>
<path d="M2845.5,1153.5 Q2881.9,1170.2 2919.5,1153.5" class="t"/>
<path d="M2845.5,1158.5 Q2881.9,1175.2 2919.5,1158.5" class="t"/>
<path d="M2845.5,1163.5 Q2881.9,1180.2 2919.5,1163.5" class="t"/>
<path d="M2851,1171 L2851,1177.7 M2912.8,1171 L2912.8,1177.7"/>
<path d="M2835.2,1179.4 L2846.9,1166.5 M2917,1166.5 L2928.7,1179.4 L2928.7,1198.6 L2907,1214.5 L2859.4,1214.5 L2835.2,1198.6 L2835.2,1179.4 L2859.4,1196.9 L2907,1196.9 L2928.7,1179.4 M2859.4,1196.9 L2859.4,1214.5 M2907,1196.9 L2907,1214.5"/>
<path d="M2851.5,1177.7 Q2881.9,1193.6 2912.8,1177.7" class="t"/>
<path d="M2849.4,1214.5 L2849.4,1252 Q2881.9,1266.2 2914.5,1252 L2914.5,1214.5"/>
<path d="M2849.4,1218.6 Q2881.9,1232.8 2914.5,1218.6" class="t"/>
<path d="M2849.4,1224.1 Q2881.9,1238.3 2914.5,1224.1" class="t"/>
<path d="M2849.4,1229.6 Q2881.9,1243.8 2914.5,1229.6" class="t"/>
<path d="M2849.4,1235.2 Q2881.9,1249.4 2914.5,1235.2" class="t"/>
<path d="M2849.4,1240.7 Q2881.9,1254.9 2914.5,1240.7" class="t"/>
<path d="M2849.4,1246.2 Q2881.9,1260.4 2914.5,1246.2" class="t"/>
<path d="M2853.5,1254.5 L2853.5,1275.4 L2856.9,1282.1 L2860.2,1292.1 Q2881.9,1302.1 2903.6,1292.1 L2907,1282.1 L2912,1275.4 L2912,1254.5"/>
<path d="M2853.5,1275.4 Q2881.9,1287.9 2912,1275.4 M2856.9,1282.1 Q2881.9,1293.8 2907,1282.1 M2858.6,1287.1 Q2881.9,1297.9 2905.3,1287.1" class="t"/>
<ellipse cx="2881.9" cy="1125.1" rx="37.1" ry="18.4" class="w"/>
<ellipse cx="2882.8" cy="1126.8" rx="24.2" ry="13.4"/>
<text class="n1" transform="translate(2781.1,1282.9) scale(.77,1)">6</text><text class="n1" transform="translate(2806.4,1282.9) scale(.77,1)">8</text>
<path d="M2832.7,1268.7L2862.7,1268.7" class="ld"/>
<path d="M2881.8,860 L2881.8,750.3 L3076,862 L3076.8,1300" class="dd"/>
</g>

<!-- g40.svg -->
<g id="g40">
<path d="M2026.8,1240.1 Q2030.1,1220.1 2056.8,1211.7 Q2076.8,1209.4 2090.2,1221.7 L2163.7,1280.2 Q2177.7,1291.9 2167,1300.9 L2147,1315.3 Q2137,1321.9 2126.9,1320.3 L2100.2,1315.3 Q2086.9,1311.9 2080.2,1300.2 Q2063.5,1290.2 2046.8,1280.2 Q2030.1,1263.5 2026.8,1240.1 Z" class="w"/>
<ellipse cx="2067.5" cy="1258.5" rx="19.4" ry="33.4" transform="rotate(-25 2067.5 1258.5)"/>
<path d="M2043.5,1241.8 Q2046.8,1223.4 2063.5,1221.7 Q2080.2,1223.4 2091.9,1248.5 Q2097.6,1267.5 2090.2,1287.5"/>
<path d="M2091.9,1245.1 L2147,1290.2 M2106.9,1235.1 L2162,1280.9 M2126.9,1296.9 L2137,1314.2 M2147,1286.9 L2157.7,1305.2" class="t"/>
<path d="M2080.2,1300.2 Q2093.5,1280.2 2090.2,1287.5" class="t"/>
<text class="n1" transform="translate(2104.9,1412.1) scale(.77,1)">3</text><text class="n1" transform="translate(2130.2,1412.1) scale(.77,1)">8</text>
<path d="M2117.6,1311.9L2117.6,1370.4" class="ld"/>
<g transform="translate(2263.9,1368.7) rotate(-148.6)"><path class="w" d="M0,-18.4 L70.4,-18.4 A11.4,18.4 0 0 1 70.4,18.4 L0,18.4 A11.4,18.4 0 0 1 0,-18.4 Z"/><ellipse class="w" cx="0" cy="0" rx="11.4" ry="18.4"/></g>
<path d="M2175.4,1313.6 L2188.7,1307.6 L2213.8,1321.9 L2213.8,1327.6 L2200.4,1337 L2200.4,1348.6 L2193.7,1352 L2175.4,1340.3 Z" class="w"/>
<path d="M2175.4,1313.6 L2198.7,1326.9 L2198.7,1347 M2198.7,1326.9 L2213.8,1321.9" class="t"/>
<ellipse cx="2186.4" cy="1331.9" rx="7.3" ry="8"/>
<text class="n1" transform="translate(2200.1,1472.2) scale(.77,1)">4</text><text class="n1" transform="translate(2225.4,1472.2) scale(.77,1)">0</text>
<path d="M2214.8,1355.3L2214.8,1425.5" class="ld"/>
<g transform="translate(2305.6,1397.1) rotate(-152.5)"><path class="w" d="M0,-41.7 L9.4,-41.7 A27.6,41.7 0 0 1 9.4,41.7 L0,41.7 A27.6,41.7 0 0 1 0,-41.7 Z"/><ellipse class="w" cx="0" cy="0" rx="27.6" ry="41.7"/></g>
<ellipse cx="2305.6" cy="1397.7" rx="19.4" ry="29.4" transform="rotate(28 2305.6 1397.7)"/>
<ellipse cx="2307.3" cy="1398.7" rx="15.4" ry="24.7" transform="rotate(28 2307.3 1398.7)" class="t"/>
<text class="n1" transform="translate(2294.6,1298.6) scale(.77,1)">4</text><path class="k1" d="M2325.9,1264V1298.6H2321.2V1273.4H2313.9V1270L2318.1,1269.6L2321.7,1264Z"/>
<path d="M2310.6,1311.9L2310.6,1358.7" class="ld"/>
<circle class="bg" cx="2308.9" cy="1230.1" r="21.8"/><text class="bt" x="2308.9" y="1243.3">C</text>
<circle class="bg" cx="2385.8" cy="1276.8" r="21.8"/><text class="bt" x="2385.8" y="1290">B</text>
<ellipse cx="2345.7" cy="1415.4" rx="10" ry="15.4" transform="rotate(28 2345.7 1415.4)" class="w"/>
<ellipse cx="2346.7" cy="1416.1" rx="6.7" ry="11.4" transform="rotate(28 2346.7 1416.1)"/>
<text class="n1" transform="translate(2320.3,1522.3) scale(.77,1)">4</text><text class="n1" transform="translate(2345.6,1522.3) scale(.77,1)">2</text>
<path d="M2335.7,1433.8L2335.7,1475.5" class="ld"/>
<circle class="bg" cx="2334" cy="1560.7" r="21.8"/><text class="bt" x="2334" y="1573.9">B</text>
<ellipse cx="2379.1" cy="1438.8" rx="20" ry="30.7" transform="rotate(28 2379.1 1438.8)" class="w"/>
<ellipse cx="2379.1" cy="1438.8" rx="9.4" ry="16" transform="rotate(28 2379.1 1438.8)"/>
<text class="n1" transform="translate(2374.8,1343.6) scale(.77,1)">4</text><text class="n1" transform="translate(2400.1,1343.6) scale(.77,1)">3</text>
<path d="M2388.1,1357L2388.1,1413.8" class="ld"/>
<g transform="translate(2424.2,1464.5) rotate(-149.9)"><path class="w" d="M0,-18.4 L19.3,-18.4 A11,18.4 0 0 1 19.3,18.4 L0,18.4 A11,18.4 0 0 1 0,-18.4 Z"/><ellipse class="w" cx="0" cy="0" rx="11" ry="18.4"/></g>
<ellipse cx="2410.8" cy="1456.8" rx="11" ry="18.4" transform="rotate(28 2410.8 1456.8)" class="t"/>
<ellipse cx="2414.5" cy="1459" rx="11" ry="18.4" transform="rotate(28 2414.5 1459)" class="t"/>
<ellipse cx="2418.1" cy="1461.2" rx="11" ry="18.4" transform="rotate(28 2418.1 1461.2)" class="t"/>
<ellipse cx="2421.8" cy="1463.4" rx="11" ry="18.4" transform="rotate(28 2421.8 1463.4)" class="t"/>
<g transform="translate(2511,1514) rotate(-150)"><path class="w" d="M0,-25 L100.2,-25 A15,25 0 0 1 100.2,25 L0,25 A15,25 0 0 1 0,-25 Z"/><ellipse class="w" cx="0" cy="0" rx="15" ry="25"/></g>
<ellipse cx="2509.3" cy="1514" rx="5.7" ry="9" transform="rotate(28 2509.3 1514)"/>
<text class="n1" transform="translate(2427.5,1584.1) scale(.77,1)">4</text><text class="n1" transform="translate(2452.8,1584.1) scale(.77,1)">4</text>
<path d="M2442.5,1492.2L2442.5,1537.3" class="ld"/>
<circle class="bg" cx="2440.9" cy="1617.5" r="21.8"/><text class="bt" x="2440.9" y="1630.7">B</text>
<ellipse cx="2543.7" cy="1530.6" rx="15" ry="21.4" transform="rotate(28 2543.7 1530.6)" class="w"/>
<ellipse cx="2543.7" cy="1530.6" rx="4" ry="8.3" transform="rotate(28 2543.7 1530.6)"/>
<text class="n1" transform="translate(2523,1637.5) scale(.77,1)">4</text><text class="n1" transform="translate(2548.3,1637.5) scale(.77,1)">5</text>
<path d="M2536,1544L2536,1590.8" class="ld"/>
<circle class="bg" cx="2536" cy="1674.2" r="21.8"/><text class="bt" x="2536" y="1687.4">B</text>
<g transform="translate(2644.6,1588.1) rotate(207.4)"><path class="w" d="M19.4,-7.3 L95.2,-7.3 A3.1,7.3 0 0 1 95.2,7.3 L19.4,7.3 Z"/><path class="t" d="M35.1,-7.3 A3.1,7.3 0 0 1 35.1,7.3"/><path class="t" d="M40.7,-7.3 A3.1,7.3 0 0 1 40.7,7.3"/><path class="t" d="M46.4,-7.3 A3.1,7.3 0 0 1 46.4,7.3"/><path class="t" d="M52.1,-7.3 A3.1,7.3 0 0 1 52.1,7.3"/><path class="t" d="M57.8,-7.3 A3.1,7.3 0 0 1 57.8,7.3"/><path class="t" d="M63.5,-7.3 A3.1,7.3 0 0 1 63.5,7.3"/><path class="t" d="M69.1,-7.3 A3.1,7.3 0 0 1 69.1,7.3"/><path class="t" d="M74.8,-7.3 A3.1,7.3 0 0 1 74.8,7.3"/><path class="t" d="M80.5,-7.3 A3.1,7.3 0 0 1 80.5,7.3"/><path class="t" d="M86.2,-7.3 A3.1,7.3 0 0 1 86.2,7.3"/><path class="t" d="M91.8,-7.3 A3.1,7.3 0 0 1 91.8,7.3"/><path class="w" d="M0,-14 L19.4,-14 A5.9,14 0 0 1 19.4,14 L0,14 A5.9,14 0 0 1 0,-14 Z"/><ellipse class="w" cx="0" cy="0" rx="5.9" ry="14"/><ellipse class="t" cx="0" cy="0" rx="3.2" ry="7.7"/></g>
<text class="n1" transform="translate(2606.9,1478.9) scale(.77,1)">4</text><text class="n1" transform="translate(2632.2,1478.9) scale(.77,1)">6</text>
<path d="M2620.5,1490.6L2620.5,1574.1" class="ld"/>
</g>

<!-- g47.svg -->
<g id="g47">
<g transform="translate(2085.1,1638.6) rotate(-151.9)"><path class="w" d="M0,-17.4 L14.8,-17.4 A10.4,17.4 0 0 1 14.8,17.4 L0,17.4 A10.4,17.4 0 0 1 0,-17.4 Z"/><ellipse class="w" cx="0" cy="0" rx="10.4" ry="17.4"/></g>
<g transform="translate(2103.1,1648.5) rotate(-152.7)"><path class="w" d="M0,-31.3 L20.2,-31.3 A18.8,31.3 0 0 1 20.2,31.3 L0,31.3 A18.8,31.3 0 0 1 0,-31.3 Z"/><ellipse class="w" cx="0" cy="0" rx="18.8" ry="31.3"/></g>
<path d="M2071.2,1635.1 L2076.4,1620.6 L2090.9,1612.5 M2090.9,1612.5 L2109.8,1622.1 M2076.4,1620.6 L2095.3,1629.9 L2109.8,1622.1 L2128.6,1626.4 M2095.3,1629.9 L2099,1656 L2114.1,1664.2 M2099,1656 L2092.4,1667.1" class="t"/>
<g transform="translate(2140.2,1665) rotate(-152.7)"><path class="w" d="M0,-18 L42.4,-18 A10.8,18 0 0 1 42.4,18 L0,18 A10.8,18 0 0 1 0,-18 Z"/><path class="t" d="M6.4,-18 A10.8,18 0 0 0 6.4,18"/><path class="t" d="M12.8,-18 A10.8,18 0 0 0 12.8,18"/><path class="t" d="M19.2,-18 A10.8,18 0 0 0 19.2,18"/><path class="t" d="M25.5,-18 A10.8,18 0 0 0 25.5,18"/><path class="t" d="M31.9,-18 A10.8,18 0 0 0 31.9,18"/><path class="t" d="M37.7,-18 A10.8,18 0 0 0 37.7,18"/><ellipse class="w" cx="0" cy="0" rx="10.8" ry="18"/></g>
<ellipse cx="2157.1" cy="1674.3" rx="5.2" ry="8.4" transform="rotate(28 2157.1 1674.3)" class="w"/>
<ellipse cx="2157.6" cy="1674.6" rx="2.9" ry="5.5" transform="rotate(28 2157.6 1674.6)"/>
<ellipse cx="2178" cy="1687.4" rx="8.4" ry="12.8" transform="rotate(28 2178 1687.4)" class="w"/>
<ellipse cx="2178.5" cy="1687.7" rx="4.6" ry="8.4" transform="rotate(28 2178.5 1687.7)"/>
<g transform="translate(2225.8,1714.9) rotate(-151.2)"><path class="w" d="M0,-10.4 L33.1,-10.4 A5.2,10.4 0 0 1 33.1,10.4 L0,10.4 A5.2,10.4 0 0 1 0,-10.4 Z"/><path class="sp" d="M3.5,-10.4 A5.2,10.4 0 0 0 3.5,10.4"/><path class="sp" d="M7.3,-10.4 A5.2,10.4 0 0 0 7.3,10.4"/><path class="sp" d="M11,-10.4 A5.2,10.4 0 0 0 11,10.4"/><path class="sp" d="M14.8,-10.4 A5.2,10.4 0 0 0 14.8,10.4"/><path class="sp" d="M18.6,-10.4 A5.2,10.4 0 0 0 18.6,10.4"/><path class="sp" d="M22.3,-10.4 A5.2,10.4 0 0 0 22.3,10.4"/><path class="sp" d="M26.1,-10.4 A5.2,10.4 0 0 0 26.1,10.4"/><path class="sp" d="M29.9,-10.4 A5.2,10.4 0 0 0 29.9,10.4"/><ellipse class="w" cx="0" cy="0" rx="5.2" ry="10.4"/></g>
<g transform="translate(2292.6,1753.5) rotate(-152)"><path class="w" d="M0,-3.8 L66.7,-3.8 A1.9,3.8 0 0 1 66.7,3.8 L0,3.8 A1.9,3.8 0 0 1 0,-3.8 Z"/><ellipse class="w" cx="0" cy="0" rx="1.9" ry="3.8"/></g>
<g transform="translate(2317.2,1768) rotate(-150.9)"><path class="w" d="M0,-6.7 L29.9,-6.7 A3.3,6.7 0 0 1 29.9,6.7 L0,6.7 A3.3,6.7 0 0 1 0,-6.7 Z"/><ellipse class="w" cx="0" cy="0" rx="3.3" ry="6.7"/></g>
<g transform="translate(2330.3,1775) rotate(-151.6)"><path class="w" d="M0,-13.9 L16.5,-13.9 A7,13.9 0 0 1 16.5,13.9 L0,13.9 A7,13.9 0 0 1 0,-13.9 Z"/><ellipse class="w" cx="0" cy="0" rx="7" ry="13.9"/></g>
<g transform="translate(2341.9,1781.7) rotate(-150.9)"><path class="w" d="M0,-10.4 L14.9,-10.4 A5.2,10.4 0 0 1 14.9,10.4 L0,10.4 A5.2,10.4 0 0 1 0,-10.4 Z"/><ellipse class="w" cx="0" cy="0" rx="5.2" ry="10.4"/></g>
<ellipse cx="2364.6" cy="1796.2" rx="16.3" ry="25.5" transform="rotate(28 2364.6 1796.2)" class="w"/>
<ellipse cx="2364.6" cy="1796.2" rx="11.3" ry="19.7" transform="rotate(28 2364.6 1796.2)"/>
<ellipse cx="2390.7" cy="1812.2" rx="6.4" ry="10.4" transform="rotate(28 2390.7 1812.2)" class="w"/>
<ellipse cx="2391.2" cy="1812.4" rx="3.5" ry="7" transform="rotate(28 2391.2 1812.4)"/>
<text class="n1" transform="translate(1969.4,1714.9) scale(.77,1)">5</text><text class="n1" transform="translate(1994.7,1714.9) scale(.77,1)">4</text>
<text class="n1" transform="translate(2052.1,1762.8) scale(.77,1)">5</text><text class="n1" transform="translate(2077.4,1762.8) scale(.77,1)">3</text>
<circle class="bg" cx="2065.4" cy="1796.2" r="21.8"/><text class="bt" x="2065.4" y="1809.4">F</text>
<text class="n1" transform="translate(2129,1806.3) scale(.77,1)">5</text><text class="n1" transform="translate(2154.3,1806.3) scale(.77,1)">2</text>
<circle class="bg" cx="2141.7" cy="1841.2" r="21.8"/><text class="bt" x="2141.7" y="1854.4">F</text>
<text class="n1" transform="translate(2187.7,1842.6) scale(.77,1)">5</text><path class="k1" d="M2219,1808V1842.6H2214.3V1817.4H2207V1814L2211.2,1813.6L2214.8,1808Z"/>
<text class="n1" transform="translate(2250.9,1878.9) scale(.77,1)">5</text><text class="n1" transform="translate(2276.2,1878.9) scale(.77,1)">0</text>
<text class="n1" transform="translate(2309,1913.7) scale(.77,1)">4</text><text class="n1" transform="translate(2334.3,1913.7) scale(.77,1)">9</text>
<circle class="bg" cx="2322.2" cy="1947.1" r="21.8"/><text class="bt" x="2322.2" y="1960.3">F</text>
<text class="n1" transform="translate(2374.2,1954.3) scale(.77,1)">4</text><text class="n1" transform="translate(2399.5,1954.3) scale(.77,1)">8</text>
<circle class="bg" cx="2386.9" cy="1984.8" r="21.8"/><text class="bt" x="2386.9" y="1998">F</text>
<text class="n1" transform="translate(2052.1,1976.1) scale(.77,1)">4</text><text class="n1" transform="translate(2077.4,1976.1) scale(.77,1)">7</text>
<circle class="bg" cx="2032" cy="2049.5" r="21.8"/><text class="bt" x="2032" y="2062.7">H</text>
<circle class="bg" cx="2439.7" cy="1617.7" r="21.8"/><text class="bt" x="2439.7" y="1630.9">B</text>
<path d="M2067.7,1639.5 L1982.9,1656.9 L1982.9,1670 M1982.9,1738.2 L1982.9,1836.8 L2388.3,2070.4 M2067.7,1833.9 L2067.7,1932.6 M2143.1,1880.3 L2143.1,1929.7 M2204.7,1862.9 L2204.7,1964.5 M2265.6,1899.2 L2265.6,1999.3 M2325.4,1986.3 L2325.4,2034.1 M2389.2,2022.5 L2389.2,2070.4" class="ld"/>
<path d="M2154.7,1681.6 L2067.7,1714.9 L2067.7,1719.3 M2172.2,1696.1 L2143.1,1733.8 L2143.1,1762.8 M2204.7,1710.6 L2204.7,1797.6 M2265.6,1738.2 L2265.6,1832.5 M2355,1809.3 L2325.4,1857.1 L2325.4,1867.3 M2389.2,1820.9 L2389.2,1905" class="ld"/>
<path d="M2398.5,1816.5 L2444.9,1841.2 L2447.8,2032.7 L2540.1,2080" class="dd"/>
</g>

<!-- g57.svg -->
<g id="g57">
<ellipse cx="2688.3" cy="1900.1" rx="25.4" ry="14.2" class="w"/>
<ellipse cx="2688.3" cy="1899.3" rx="18.7" ry="8.9"/>
<text class="n1" transform="translate(2586.6,1917.1) scale(.77,1)">5</text><text class="n1" transform="translate(2611.9,1917.1) scale(.77,1)">7</text>
<path d="M2637.1,1903.7L2665.6,1903.7" class="ld"/>
<circle class="bg" cx="2539.2" cy="1902.4" r="21.8"/><text class="bt" x="2539.2" y="1915.6">F</text>
<ellipse cx="2687" cy="1949.1" rx="14.2" ry="14.2" class="w"/>
<path d="M2680.3,1942.4 Q2677.2,1949.1 2681.7,1955.8" class="t"/>
<text class="n1" transform="translate(2765.6,1963.8) scale(.77,1)">5</text><text class="n1" transform="translate(2790.9,1963.8) scale(.77,1)">6</text>
<path d="M2695.9,1950.5L2744,1950.5" class="ld"/>
<path d="M3144.7,1865.4 L3144.7,1887.7 L3139,1894.4 L3139,1927.8 Q3164.8,1941.1 3190.6,1927.8 L3190.6,1894.4 L3184.8,1887.7 L3184.8,1865.4 Q3182.6,1858.7 3175.9,1860.1 L3175.9,1874.3 Q3164.8,1879.7 3153.7,1874.3 L3153.7,1860.1 Q3147,1858.7 3144.7,1865.4 Z" class="w"/>
<path d="M3139,1894.4 Q3164.8,1909.1 3190.6,1894.4 M3144.7,1887.7 Q3164.8,1898.8 3184.8,1887.7 M3153.7,1874.3 L3153.7,1884.1 M3175.9,1874.3 L3175.9,1884.1" class="t"/>
<path d="M3147,1933.1 L3147,1947.8 Q3164.8,1958 3182.6,1947.8 L3182.6,1933.1" class="w"/>
<path d="M3139,1923.3 Q3164.8,1936.7 3190.6,1923.3" class="t"/>
<path class="k1" d="M3254.8,1892.3V1926.9H3250.1V1901.7H3242.8V1898.3L3247,1897.9L3250.6,1892.3Z"/><path class="k1" d="M3280.1,1892.3V1926.9H3275.4V1901.7H3268.1V1898.3L3272.3,1897.9L3275.9,1892.3Z"/>
<path d="M3181.3,1911.3L3228,1911.3" class="ld"/>
<circle class="bg" cx="3322.4" cy="1911.3" r="21.8"/><text class="bt" x="3322.4" y="1924.5">A</text>
<path class="k1" d="M3343.8,2190.6V2225.2H3339.1V2200H3331.8V2196.6L3336,2196.2L3339.6,2190.6Z"/><text class="n1" transform="translate(3363.1,2225.2) scale(.77,1)">4</text>
<path d="M3165.7,1962.5 L3165.7,1981.2 L3042.3,2052.4 L3042.3,2167.3" class="dd"/>
</g>

<!-- g60.svg -->
<g id="g60">
<ellipse cx="2881" cy="1333.9" rx="34.2" ry="18.6" class="w"/>
<ellipse cx="2881" cy="1333.1" rx="27.9" ry="14.1"/>
<text class="n1" transform="translate(2950.1,1348.7) scale(.77,1)">6</text><text class="n1" transform="translate(2975.4,1348.7) scale(.77,1)">7</text>
<path d="M2914.4,1335L2928.2,1335" class="ld"/>
<circle class="bg" cx="3023.3" cy="1334.6" r="21.8"/><text class="bt" x="3023.3" y="1347.8">F</text>
<ellipse cx="2881" cy="1383.3" rx="26" ry="14.9" class="w"/>
<ellipse cx="2881" cy="1382.5" rx="18.6" ry="9.3"/>
<text class="n1" transform="translate(2780.3,1402.6) scale(.77,1)">6</text><text class="n1" transform="translate(2805.6,1402.6) scale(.77,1)">6</text>
<path d="M2832.7,1389.6L2856.9,1389.6" class="ld"/>
<circle class="bg" cx="2733.5" cy="1388.8" r="21.8"/><text class="bt" x="2733.5" y="1402">F</text>
<ellipse cx="2881" cy="1429.3" rx="24.1" ry="14.9" class="w"/>
<ellipse cx="2881" cy="1428.6" rx="16.7" ry="9.3"/>
<text class="n1" transform="translate(2950.1,1444.6) scale(.77,1)">6</text><text class="n1" transform="translate(2975.4,1444.6) scale(.77,1)">5</text>
<path d="M2903.3,1430.4L2928.2,1430.4" class="ld"/>
<circle class="bg" cx="3023.3" cy="1429.3" r="21.8"/><text class="bt" x="3023.3" y="1442.5">F</text>
<ellipse cx="2881" cy="1473.2" rx="21.2" ry="11.9" class="w"/>
<ellipse cx="2881" cy="1472.4" rx="15.6" ry="7.4"/>
<text class="n1" transform="translate(2780.3,1489.1) scale(.77,1)">6</text><text class="n1" transform="translate(2805.6,1489.1) scale(.77,1)">4</text>
<path d="M2832.7,1475L2860.6,1475" class="ld"/>
<circle class="bg" cx="2733.5" cy="1473.9" r="21.8"/><text class="bt" x="2733.5" y="1487.1">F</text>
<ellipse cx="2881" cy="1512.2" rx="17.8" ry="10" class="w"/>
<ellipse cx="2881" cy="1511.4" rx="13" ry="6.3"/>
<text class="n1" transform="translate(2950.1,1528.1) scale(.77,1)">6</text><text class="n1" transform="translate(2975.4,1528.1) scale(.77,1)">3</text>
<path d="M2897.7,1514L2928.2,1514" class="ld"/>
<circle class="bg" cx="3023.3" cy="1513.3" r="21.8"/><text class="bt" x="3023.3" y="1526.5">F</text>
<path d="M2857.6,1553 L2857.6,1577.2 Q2860.6,1590.2 2869.9,1592.8 L2869.9,1606.9 L2867.3,1608.7 L2867.3,1662.6 L2871.7,1664.4 L2871.7,1686.7 Q2882.9,1693 2893.3,1686.7 L2893.3,1664.4 L2897,1662.6 L2897,1608.7 L2895.9,1606.9 L2895.9,1592.8 Q2905.2,1590.2 2908.1,1577.2 L2908.1,1553" class="w"/>
<path d="M2857.6,1566 Q2882.9,1582.7 2908.1,1566 M2857.6,1575.3 Q2882.9,1592 2908.1,1575.3 M2869.9,1592.8 Q2882.9,1599.4 2895.9,1592.8 M2867.3,1608.7 Q2882.9,1616.2 2897,1608.7 M2871.7,1664.4 Q2882.9,1670 2893.3,1664.4 M2871.7,1671.9 Q2882.9,1677.4 2893.3,1671.9 M2871.7,1679.3 Q2882.9,1684.9 2893.3,1679.3 M2877.3,1608.7 L2877.3,1660.7" class="t"/>
<ellipse cx="2882.9" cy="1553" rx="25.3" ry="14.1" class="w"/>
<path d="M2862.4,1559.3 L2897.7,1544.5 M2866.2,1562.3 L2901.4,1547.4"/>
<text class="n1" transform="translate(2950.1,1661.8) scale(.77,1)">6</text><text class="n1" transform="translate(2975.4,1661.8) scale(.77,1)">2</text>
<path d="M2888.4,1647.7L2928.2,1647.7" class="ld"/>
<path d="M2861.7,1718.3 L2861.7,1761 L2866.2,1767.3 L2871.7,1769.6 L2871.7,1777 Q2882.9,1782.2 2894,1777 L2894,1769.6 L2899.6,1767.3 L2904,1761 L2904,1718.3" class="w"/>
<path d="M2861.7,1761 Q2882.9,1772.2 2904,1761 M2877.3,1771.1 L2877.3,1777.7 M2887.3,1771.1 L2887.3,1778.5" class="t"/>
<ellipse cx="2882.9" cy="1718.3" rx="21.5" ry="13" class="w"/>
<ellipse cx="2882.9" cy="1719.4" rx="13.4" ry="7.1"/>
<text class="n1" transform="translate(2947.5,1755.4) scale(.77,1)">6</text><path class="k1" d="M2978.8,1720.8V1755.4H2974.1V1730.2H2966.8V1726.8L2971,1726.4L2974.6,1720.8Z"/>
<path d="M2897.7,1740.6L2928.2,1740.6" class="ld"/>
<ellipse cx="2881" cy="1805.6" rx="20.4" ry="11.1" class="w"/>
<ellipse cx="2881" cy="1804.9" rx="14.9" ry="6.7"/>
<text class="n1" transform="translate(2950.1,1820.5) scale(.77,1)">6</text><text class="n1" transform="translate(2975.4,1820.5) scale(.77,1)">0</text>
<path d="M2901.4,1806.7L2928.2,1806.7" class="ld"/>
<circle class="bg" cx="3023.3" cy="1806.7" r="21.8"/><text class="bt" x="3023.3" y="1819.9">F</text>
<path d="M2861.3,1848.3 L2861.3,1891 Q2882.9,1907.7 2904.4,1891 L2904.4,1848.3" class="w"/>
<path d="M2861.3,1859.5 Q2882.9,1871.3 2904.4,1859.5" class="t"/>
<path d="M2861.3,1864.7 Q2882.9,1876.5 2904.4,1864.7" class="t"/>
<path d="M2861.3,1869.9 Q2882.9,1881.7 2904.4,1869.9" class="t"/>
<path d="M2861.3,1875.1 Q2882.9,1886.9 2904.4,1875.1" class="t"/>
<path d="M2861.3,1880.3 Q2882.9,1892.1 2904.4,1880.3" class="t"/>
<path d="M2861.3,1885.5 Q2882.9,1897.3 2904.4,1885.5" class="t"/>
<path d="M2861.3,1890.7 Q2882.9,1902.5 2904.4,1890.7" class="t"/>
<ellipse cx="2882.9" cy="1848.3" rx="21.5" ry="13" class="w"/>
<ellipse cx="2882.9" cy="1847.2" rx="14.9" ry="8.9"/>
<text class="n1" transform="translate(2950.1,1878.8) scale(.77,1)">5</text><text class="n1" transform="translate(2975.4,1878.8) scale(.77,1)">9</text>
<path d="M2897.7,1866.1L2928.2,1866.1" class="ld"/>
<path d="M2669.3,1759.2 L2666.7,1770.3 Q2663.7,1777.7 2668.2,1783.3 Q2663,1792.6 2668.2,1798.2 Q2663,1803.7 2667.4,1809.3 L2660,1816.7 L2660,1835.3 L2667.4,1841.6 L2667.4,1865 Q2689,1878 2710.1,1865 L2710.1,1841.6 L2717.6,1835.3 L2717.6,1816.7 L2710.1,1809.3 Q2715,1803.7 2709.8,1798.2 Q2715,1792.6 2709.8,1783.3 Q2714.2,1777.7 2711.3,1770.3 L2709,1759.2" class="w"/>
<path d="M2668.2,1783.3 Q2689,1794.5 2709.8,1783.3 M2668.2,1798.2 Q2689,1809.3 2709.8,1798.2 M2667.4,1809.3 Q2689,1820.5 2710.1,1809.3 M2660,1816.7 Q2689,1833.5 2717.6,1816.7 M2660,1835.3 Q2689,1852 2717.6,1835.3 M2667.4,1841.6 Q2689,1853.9 2710.1,1841.6 M2667.4,1850.2 Q2689,1862.4 2710.1,1850.2 M2667.4,1857.6 Q2689,1869.9 2710.1,1857.6 M2697.1,1824.2 L2697.1,1844.6" class="t"/>
<ellipse cx="2689" cy="1757.3" rx="20.4" ry="12.6" class="w"/>
<ellipse cx="2689.7" cy="1754.7" rx="7.4" ry="4.1"/>
<text class="n1" transform="translate(2765.1,1837.2) scale(.77,1)">5</text><text class="n1" transform="translate(2790.4,1837.2) scale(.77,1)">8</text>
<path d="M2710.1,1823.4L2743.6,1823.4" class="ld"/>
<path d="M3092.7,1430.4 L3163.3,1473.9" stroke-width="9"/>
<path d="M3092.7,1430.4 L3163.3,1473.9" stroke="#fff" stroke-width="4.6"/>
<text class="n1" transform="translate(3112.4,1399.6) scale(.77,1)">7</text><text class="n1" transform="translate(3137.7,1399.6) scale(.77,1)">3</text>
<path d="M3125,1411.9L3125,1450.9" class="ld"/>
<path d="M3180,1502.9 L3183,1372.9 Q3187.5,1343.1 3217.2,1333.9 Q3246.9,1324.6 3276.6,1335.7 Q3300.7,1346.9 3303.3,1376.6 L3306.3,1506.6 L3304.5,1512.2 L3258,1541.9 L3194.9,1525.2 L3180.8,1506.6 Z" class="w"/>
<path d="M3183.7,1387.7 Q3196.7,1410.7 3213.5,1399.6 Q3239.5,1421.9 3269.2,1403.3 Q3291.5,1414.5 3304.5,1391.4"/>
<path d="M3194.9,1406.3 L3194.9,1523.3 M3209,1402.6 L3209,1502.9 M3252.5,1413.7 L3252.5,1517.7 M3269.2,1404.4 L3269.2,1519.6 M3292.2,1410 L3292.2,1499.2 M3258,1541.9 L3258,1517.7" class="t"/>
<path d="M3194.9,1502.9 L3209,1502.9 M3194.9,1510.3 L3206,1517.7 M3252.5,1517.7 L3269.2,1519.6 M3180,1473.2 L3183,1476.9 M3306.3,1476.9 L3302.6,1482.4" class="t"/>
<ellipse cx="3243.2" cy="1359.9" rx="16.7" ry="9.3"/>
<ellipse cx="3243.2" cy="1361.7" rx="10.4" ry="5.2"/>
<text class="n1" transform="translate(3368,1460.9) scale(.77,1)">7</text><text class="n1" transform="translate(3393.3,1460.9) scale(.77,1)">2</text>
<path d="M3293.3,1444.6L3343.5,1444.6" class="ld"/>
<path d="M3137.3,1759.2 L3137.3,1783.3 Q3163.3,1807.5 3191.2,1783.3 L3191.2,1759.2" class="w"/>
<path d="M3137.3,1768.5 Q3163.3,1790.7 3191.2,1768.5 M3137.3,1775.9 Q3163.3,1798.2 3191.2,1775.9" class="t"/>
<path d="M3128.8,1744.3 Q3131.7,1720.2 3163.3,1718.3 Q3194.9,1720.2 3197.9,1744.3 Q3194.9,1762.9 3163.3,1764.7 Q3131.7,1762.9 3128.8,1744.3 Z" class="w"/>
<path d="M3133.6,1753.6 Q3163.3,1775.9 3193,1753.6" class="t"/>
<path class="k1" d="M3256.9,1732V1766.6H3252.2V1741.4H3244.9V1738L3249.1,1737.6L3252.7,1732Z"/><text class="n1" transform="translate(3276.2,1766.6) scale(.77,1)">6</text>
<path d="M3189.3,1751L3228.3,1751" class="ld"/>
<ellipse cx="3162.2" cy="1827.9" rx="24.1" ry="14.1" class="w"/>
<ellipse cx="3162.2" cy="1827.1" rx="16.7" ry="8.2"/>
<path class="k1" d="M3257.7,1813.7V1848.3H3253V1823.1H3245.7V1819.7L3249.9,1819.3L3253.5,1813.7Z"/><text class="n1" transform="translate(3277,1848.3) scale(.77,1)">2</text>
<path d="M3183.7,1833.5L3228.3,1833.5" class="ld"/>
<circle class="bg" cx="3322.3" cy="1832.3" r="21.8"/><text class="bt" x="3322.3" y="1845.5">F</text>
<path d="M3076.8,1265.1 L3076.8,1488 L3243.2,1585.3 L3243.2,1567.9" class="dd"/>
</g>

<!-- g74.svg -->
<g id="g74">
<path d="M3214.9,1184 L3228.8,1170.1 L3255.7,1169.2 L3270.6,1184 L3271.1,1199.8 L3259.4,1212.4 L3230.7,1212.8 L3215.5,1199.8 Z" class="w"/>
<path d="M3214.9,1184 L3230.7,1197.9 L3259.4,1197 L3270.6,1184 M3230.7,1197.9 L3230.7,1212.8 M3259.4,1197 L3259.4,1212.4"/>
<ellipse cx="3242.7" cy="1183.1" rx="14.8" ry="6.7"/>
<path d="M3229.8,1182.2 Q3242.7,1192.4 3255.7,1182.2" class="t"/>
<text class="n1" transform="translate(3366.5,1206.3) scale(.77,1)">7</text><text class="n1" transform="translate(3391.8,1206.3) scale(.77,1)">5</text>
<path d="M3264.1,1191.1L3343.9,1191.1" class="ld"/>
<path d="M3227,1238.7 L3227,1302.7 Q3242.7,1312.9 3258.5,1302.7 L3258.5,1238.7" class="w"/>
<path d="M3227,1248 Q3242.7,1256.4 3258.5,1248" class="t"/>
<path d="M3227,1254.1 Q3242.7,1262.5 3258.5,1254.1" class="t"/>
<path d="M3227,1260.3 Q3242.7,1268.6 3258.5,1260.3" class="t"/>
<path d="M3227,1266.4 Q3242.7,1274.7 3258.5,1266.4" class="t"/>
<path d="M3227,1272.5 Q3242.7,1280.9 3258.5,1272.5" class="t"/>
<path d="M3227,1278.6 Q3242.7,1287 3258.5,1278.6" class="t"/>
<path d="M3227,1284.7 Q3242.7,1293.1 3258.5,1284.7" class="t"/>
<path d="M3227,1290.9 Q3242.7,1299.2 3258.5,1290.9" class="t"/>
<path d="M3227,1297 Q3242.7,1305.3 3258.5,1297" class="t"/>
<ellipse cx="3242.7" cy="1238.7" rx="15.8" ry="7.4" class="w"/>
<path d="M3231.6,1242.4 Q3242.7,1249.9 3253.9,1242.4" class="t"/>
<text class="n1" transform="translate(3366.5,1297.2) scale(.77,1)">7</text><text class="n1" transform="translate(3391.8,1297.2) scale(.77,1)">4</text>
<path d="M3249.2,1282.9L3343.9,1282.9" class="ld"/>
</g>

<!-- t2x.svg -->
<g id="t2x">
<path d="M440.8,1611.6 L440.8,1634.6 Q473.4,1659.7 507.7,1634.6 L507.7,1611.6" class="w"/>
<path d="M440.8,1624.2 Q473.4,1647.1 507.7,1624.2" class="t"/>
<use href="#u76k" transform="translate(189.3,-518.7) scale(0.952)"/>
<path d="M603.8,1553.1 L603.8,1594.9 Q628,1611.6 652.3,1594.9 L652.3,1553.1" class="w"/>
<path d="M603.8,1584.5 Q628,1601.2 652.3,1584.5" class="t"/>
<path d="M600.9,1544.8 L600.9,1554 Q628,1573.2 655.2,1554 L655.2,1544.8" class="w"/>
<ellipse cx="628" cy="1544.8" rx="27.2" ry="16.7" class="w"/>
<path d="M564.1,1574 L564.1,1615.8 Q588.3,1632.5 612.6,1615.8 L612.6,1574" class="w"/>
<path d="M564.1,1605.4 Q588.3,1622.1 612.6,1605.4" class="t"/>
<path d="M561.2,1565.7 L561.2,1574.8 Q588.3,1594.1 615.5,1574.8 L615.5,1565.7" class="w"/>
<ellipse cx="588.3" cy="1565.7" rx="27.2" ry="16.7" class="w"/>
<path d="M526.5,1601.2 L526.5,1643 Q550.7,1659.7 575,1643 L575,1601.2" class="w"/>
<path d="M526.5,1632.5 Q550.7,1649.2 575,1632.5" class="t"/>
<path d="M523.6,1592.8 L523.6,1602 Q550.7,1621.2 577.9,1602 L577.9,1592.8" class="w"/>
<ellipse cx="550.7" cy="1592.8" rx="27.2" ry="16.7" class="w"/>
<path d="M538.2,1617.9 Q548.6,1628.3 567.4,1620 L580,1613.7 Q586.2,1607.4 577.9,1602.4 M575.8,1590.7 Q586.2,1599.1 605,1590.7 L617.6,1584.5 Q623.8,1578.2 615.5,1574 M615.5,1567.7 Q625.9,1574 644.7,1567.7 L657.3,1559.4 Q661.5,1551 653.1,1546.8"/>
<path d="M394,1672.2 L394,1641.7 Q387.7,1633.3 394,1625 Q389,1615.8 396.1,1607.4 Q400.3,1597 409.1,1595.7 Q419.1,1597 422.4,1607.4 Q429.5,1615.8 423.3,1625 Q429.5,1633.3 424.1,1641.7 L424.1,1672.2" class="w"/>
<path d="M394,1641.7 Q409.1,1651.3 424.1,1641.7 M394,1625 Q409.1,1634.6 423.3,1625 M396.1,1607.4 Q409.1,1616.6 422.4,1607.4 M404.5,1601.2 Q409.1,1604.1 414.1,1601.2" class="t"/>
<g transform="translate(357.2,1718.2) rotate(-29.5)"><path class="w" d="M0,-46.8 L25.4,-46.8 A25.7,46.8 0 0 1 25.4,46.8 L0,46.8 A25.7,46.8 0 0 1 0,-46.8 Z"/><ellipse class="w" cx="0" cy="0" rx="25.7" ry="46.8"/></g>
<path d="M350.1,1680.6 L371,1670.1 M356.4,1762.1 L377.3,1751.6 M343.9,1707.7 L364.8,1697.3" class="t"/>
<g transform="translate(320.9,1739.1) rotate(-29.9)"><path class="w" d="M0,-41.8 L41.9,-41.8 A25.1,41.8 0 0 1 41.9,41.8 L0,41.8 A25.1,41.8 0 0 1 0,-41.8 Z"/><path class="t" d="M8.4,-41.8 A25.1,41.8 0 0 0 8.4,41.8"/><path class="t" d="M15,-41.8 A25.1,41.8 0 0 0 15,41.8"/><path class="t" d="M21.7,-41.8 A25.1,41.8 0 0 0 21.7,41.8"/><path class="t" d="M28.4,-41.8 A25.1,41.8 0 0 0 28.4,41.8"/><path class="t" d="M35.1,-41.8 A25.1,41.8 0 0 0 35.1,41.8"/><ellipse class="w" cx="0" cy="0" rx="25.1" ry="41.8"/></g>
<ellipse cx="322.1" cy="1739.9" rx="16.7" ry="30.1" transform="rotate(-28 322.1 1739.9)"/>
</g>

<!-- th1.svg -->
<g id="th1">
<clipPath id="c1"><rect x="195.5" y="673.5" width="560" height="654"/></clipPath><g clip-path="url(#c1)">
<use href="#g24a" transform="translate(-697.9,-62.1) scale(0.71)"/>
<use href="#g24b" transform="translate(-697.9,-62.1) scale(0.71)"/>
<use href="#g24c" transform="translate(-697.9,-62.1) scale(0.71)"/>
<use href="#g24d" transform="translate(-697.9,-62.1) scale(0.71)"/>
<path d="M355.8,760.1 L352.7,775.7 Q355.8,790 380.5,792.6 Q405.2,790 407.8,774.4 L405.2,760.1" class="w"/>
<path d="M359.7,767.9 L359.7,786.1" class="t"/>
<path d="M366.2,767.9 L366.2,786.1" class="t"/>
<path d="M373.5,767.9 L373.5,786.1" class="t"/>
<path d="M380.5,767.9 L380.5,786.1" class="t"/>
<path d="M387.5,767.9 L387.5,786.1" class="t"/>
<path d="M394.8,767.9 L394.8,786.1" class="t"/>
<path d="M401.3,767.9 L401.3,786.1" class="t"/>
<ellipse cx="380.5" cy="757.5" rx="24.7" ry="14.3" class="w"/>
<use href="#g03b" transform="translate(-1779.2,-341.1) scale(0.78,0.62)"/>
<use href="#t2x" transform="translate(17.3,-538.8) scale(0.959)"/>
<g transform="translate(667.7,1041.2) rotate(-164.4)"><path class="w" d="M0,-52.2 L54.2,-52.2 A39.2,52.2 0 0 1 54.2,52.2 L0,52.2 A39.2,52.2 0 0 1 0,-52.2 Z"/><ellipse class="w" cx="0" cy="0" rx="39.2" ry="52.2"/></g>
<ellipse cx="670.6" cy="1042" rx="32.6" ry="43.9" transform="rotate(16 670.6 1042)" class="t"/>
<path d="M676.1,1011.9 L673.2,1060 M670.6,1051.6 L678.2,1051.6" stroke-width="3"/>
<path class="k1" d="M290.5,747.5V782.1H285.8V756.9H278.5V753.5L282.7,753.1L286.3,747.5Z"/>
<path d="M284.5,792.5L284.5,865.7" class="ld"/>
</g>
</g>

<!-- th2.svg -->
<g id="th2">
<clipPath id="c2"><rect x="195.5" y="1368" width="560" height="656"/></clipPath><g clip-path="url(#c2)">
<use href="#g03b" transform="translate(-1861.5,183.6) scale(0.81,0.66)"/>
<use href="#t2x"/>
<use href="#g04p" transform="translate(-1552,-288) scale(0.78)"/>
<text class="n1" transform="translate(449.2,1436.9) scale(.77,1)">2</text>
<path d="M449.2,1446.6L449.2,1486.3" class="ld"/>
</g>
</g>

<!-- title.svg -->
<g id="title">
<path d="M1136.9,184 L1136.9,263.2 L1125.5,263.2 L1125.5,205.5 L1109.6,205.5 L1109.6,197.9 L1119,197 L1127.4,184 Z" fill="#16120a" stroke="none"/>
<path d="M1254.4,184 L1254.4,263.2 L1243,263.2 L1243,205.5 L1227.1,205.5 L1227.1,197.9 L1236.5,197 L1244.9,184 Z" fill="#16120a" stroke="none"/>
<path d="M1170.9,205.7 Q1171.6,190.1 1185.8,189.9 Q1200.8,190.1 1200.8,204.4 Q1200.8,219.5 1182.6,220.5 M1182.6,220.5 Q1202.7,221.3 1202.7,241.2 Q1202.7,258.1 1185.8,258.1 Q1169.6,258.1 1168.3,240.8" stroke="#16120a" stroke-width="11.6" stroke-linecap="butt" fill="none"/>
<path d="M1287.5,205.5 Q1287.5,189.9 1303.6,189.9 Q1319.7,189.9 1319.7,205.5 L1319.7,242.5 Q1319.7,258.1 1303.6,258.1 Q1287.5,258.1 1287.5,242.5 Z" stroke="#16120a" stroke-width="11.4" fill="none"/>
</g>

<!-- u76k.svg -->
<g id="u76k">
<path d="M259.6,2138 L256.7,2222.8 L261.8,2230.1 L274.8,2250.4 L308.2,2254 L331.4,2246.1 L342.3,2235.9 L342.3,2143 Q341.6,2128.5 332.9,2121.3 Q321.3,2112.6 310.8,2110 L290.1,2109.7 Q269,2114 261.8,2128.5 Q259.6,2132.9 259.6,2138 Z" class="w"/>
<path d="M259.9,2138.7 Q269,2151 279.2,2155.4 Q289.3,2159 300.2,2158.3 Q315.4,2156.1 328.5,2148.8 Q338.7,2142.3 342,2135.8"/>
<path d="M266.8,2158.3 L277,2163.4 Q287.9,2157.5 298,2160.7 L305.3,2167 L316.9,2167 L325.6,2152.9"/>
<path d="M266.8,2158.3 L266.8,2231.5 M276.3,2163.4 L276.3,2233 M305.3,2167 L305.3,2235.9 M316.9,2167 L316.9,2235.9"/>
<path d="M337.2,2148.8 L337.2,2215.6 M261.8,2230.1 L269,2232.3 L271.2,2241 M276.3,2233 L277,2242.4 M305.3,2235.9 L303.8,2243.2 L308.2,2254 M316.9,2235.9 L315.4,2244.6 M269,2235.9 L275.5,2237.4 M303.8,2241 L315.4,2242.4" class="t"/>
<path d="M282.1,2128.5 L290.1,2121.3 L311.1,2121.3 L319.5,2128.5 L319.1,2135.1 L309.6,2143 L293,2143 L283.5,2135.8 Z" class="w"/>
<path d="M282.1,2128.5 L293,2135.1 L309.6,2135.1 L319.5,2128.5 M293,2135.1 L293,2143 M309.6,2135.1 L309.6,2143" class="t"/>
<path d="M290.1,2123 L290.1,2106.8 Q290.8,2099.5 300.2,2099.5 Q309.6,2099.5 310.8,2106.8 L310.8,2123 Q300.2,2128.5 290.1,2123" class="w"/>
<path d="M290.1,2108.2 Q300.2,2113.3 310.8,2108.2 M290.1,2112.6 Q300.2,2117.6 310.8,2112.6 M290.1,2116.9 Q300.2,2122 310.8,2116.9 M295.1,2102.4 Q300.2,2104.6 305.3,2102.4" class="t"/>
</g>

<!-- u76l.svg -->
<g id="u76l">
<text class="n1" transform="translate(397.6,2224) scale(.77,1)">7</text><text class="n1" transform="translate(422.8,2224) scale(.77,1)">6</text>
<path class="ld" d="M326,2208.2L368,2208.2"/>
</g>

<!-- u76t.svg -->
<g id="u76t">
<path d="M274.8,2250.4 L278.5,2259.1 L278.5,2264.9 L279.9,2288.1 L279.9,2305.5 Q282.1,2317.2 290.8,2321.5 Q300.9,2325.1 311.1,2321.5 Q321.3,2317.2 322.7,2305.5 L322.7,2288.1 L324.2,2264.9 L324.2,2256.2 L331.4,2246.1 L308.2,2254 Z" class="w"/>
<path d="M286.4,2254 L286.4,2263.2 M315.4,2253.6 L315.4,2263.2" class="t"/>
<path d="M278.6,2264.9 Q300.9,2270.4 324,2264.9" class="t"/>
<path d="M278.7,2268.1 Q300.9,2273.6 323.9,2268.1" class="t"/>
<path d="M278.9,2271.3 Q300.9,2276.8 323.7,2271.3" class="t"/>
<path d="M279,2274.5 Q300.9,2280 323.6,2274.5" class="t"/>
<path d="M279.2,2277.7 Q300.9,2283.2 323.4,2277.7" class="t"/>
<path d="M279.3,2280.9 Q300.9,2286.4 323.3,2280.9" class="t"/>
<path d="M279.5,2284.1 Q300.9,2289.6 323.1,2284.1" class="t"/>
<path d="M279.6,2287.3 Q300.9,2292.8 323,2287.3" class="t"/>
<path d="M279.9,2305.5 Q300.9,2313.5 322.7,2305.5 M281.4,2312.8 Q300.9,2320.1 321.3,2312.8" class="t"/>
</g>

<!-- zicons.svg -->
<g id="zicons">
<path d="M3700.9,791.3 L3706.1,791.3 L3706.1,767.6 L3713.4,752.3 L3753.1,752.3 L3761.5,767.6 L3761.5,791.3 L3766.4,791.3 L3766.4,833.8 Q3766.4,836.6 3763.6,836.6 L3703.7,836.6 Q3700.9,836.6 3700.9,833.8 Z" fill="#2f2f2f" stroke="none"/>
<path d="M3704,800 L3763.6,800 M3704,811.1 L3763.6,811.1 M3705.8,822.3 L3762.2,822.3" stroke="#d8d8d8" stroke-width="2"/>
<path d="M3724.6,753.3 L3724.6,764.8 L3728.1,767.3 L3728.1,769.7 L3721.8,771.1 L3718,790.2 L3748.6,790.9 L3745.8,771.1 L3740.2,769.7 L3740.2,767.3 L3743.7,764.8 L3743.7,753.3" stroke="#c8c8c8" stroke-width="1.8"/>
<path d="M3713.4,754.4 L3721.8,754.4 M3746.9,754.4 L3753.1,754.4" stroke="#999" stroke-width="1.5"/>
<path d="M3717,979.2 Q3717,973.1 3721.9,973.1 L3747.1,973.1 Q3752.4,973.1 3752.4,979.2 L3752.4,1048.3 L3744.2,1048.3 L3744.2,1058.5 L3751.1,1058.5 L3751.1,1068.6 L3717,1068.6 L3717,1058.5 L3723.9,1058.5 L3723.9,1048.3 L3717,1048.3 Z" fill="#2f2f2f" stroke="none"/>
<circle cx="3733.3" cy="1246.2" r="40" stroke="#2f2f2f" stroke-width="13.5" fill="none"/>
<circle cx="3733.3" cy="1206.2" r="3" fill="#fff" stroke="none"/>
<circle cx="3733.3" cy="1286.2" r="3" fill="#fff" stroke="none"/>
<circle cx="3693.3" cy="1246.2" r="3" fill="#fff" stroke="none"/>
<circle cx="3773.3" cy="1246.2" r="3" fill="#fff" stroke="none"/>
<ellipse cx="3733.5" cy="1471.8" rx="57.5" ry="35.5" stroke="#2f2f2f" stroke-width="7" fill="none"/>
<ellipse cx="3733.5" cy="1470.8" rx="55" ry="33" stroke="#e8e8e8" stroke-width="0.9" fill="none"/>
<path d="M3672.5,1707.6 a61,39 0 0 0 122,0 l0,-12 a61,39 0 0 0 -122,0 Z" fill="#2f2f2f" stroke="none"/>
<ellipse cx="3733.5" cy="1695.6" rx="61" ry="39" fill="#2f2f2f" stroke="none"/>
<ellipse cx="3733.5" cy="1694.6" rx="58" ry="36" stroke="#e8e8e8" stroke-width="0.9" fill="none"/>
<ellipse cx="3733.5" cy="1696.6" rx="47" ry="27" stroke="#e8e8e8" stroke-width="1.4" fill="none" stroke-dasharray="60 28 90 28"/>
<ellipse cx="3733.5" cy="1699.6" rx="33" ry="18" fill="#fff" stroke="#e8e8e8" stroke-width="1"/>
<path d="M3700.5,1699.6 a33,18 0 0 1 66,0" stroke="#2f2f2f" stroke-width="5" fill="none"/>
<path d="M168.8,3062.3 L176.9,3068.2 L138,3098.7 L167.2,3100.6 L131.5,3133.1 L136.4,3138.6 L116.9,3141.9 L121.8,3124 L127.3,3128.9 L152.6,3107.8 L121.8,3105.2 Z" fill="#fff" stroke="none"/>
<path d="M1217.1,3069.1 Q1226.3,3064.4 1230.1,3073.7 Q1231,3082 1223.6,3086.7 L1212.4,3096.9 Q1217.1,3115.4 1200.4,3129.4 L1192.5,3134 L1172.5,3114.5 L1178.1,3107.1 Q1183.7,3091.3 1204.1,3086.7 L1212.4,3075.5 Z" fill="#fff" stroke="none"/>
<path d="M1178.1,3112.7 L1163.3,3119.1 M1184.6,3121 L1169.8,3131.2 M1192,3129.4 L1179,3137.7" stroke="#fff" stroke-width="6.5" stroke-linecap="butt"/>
</g>

</svg>
</body></html>
